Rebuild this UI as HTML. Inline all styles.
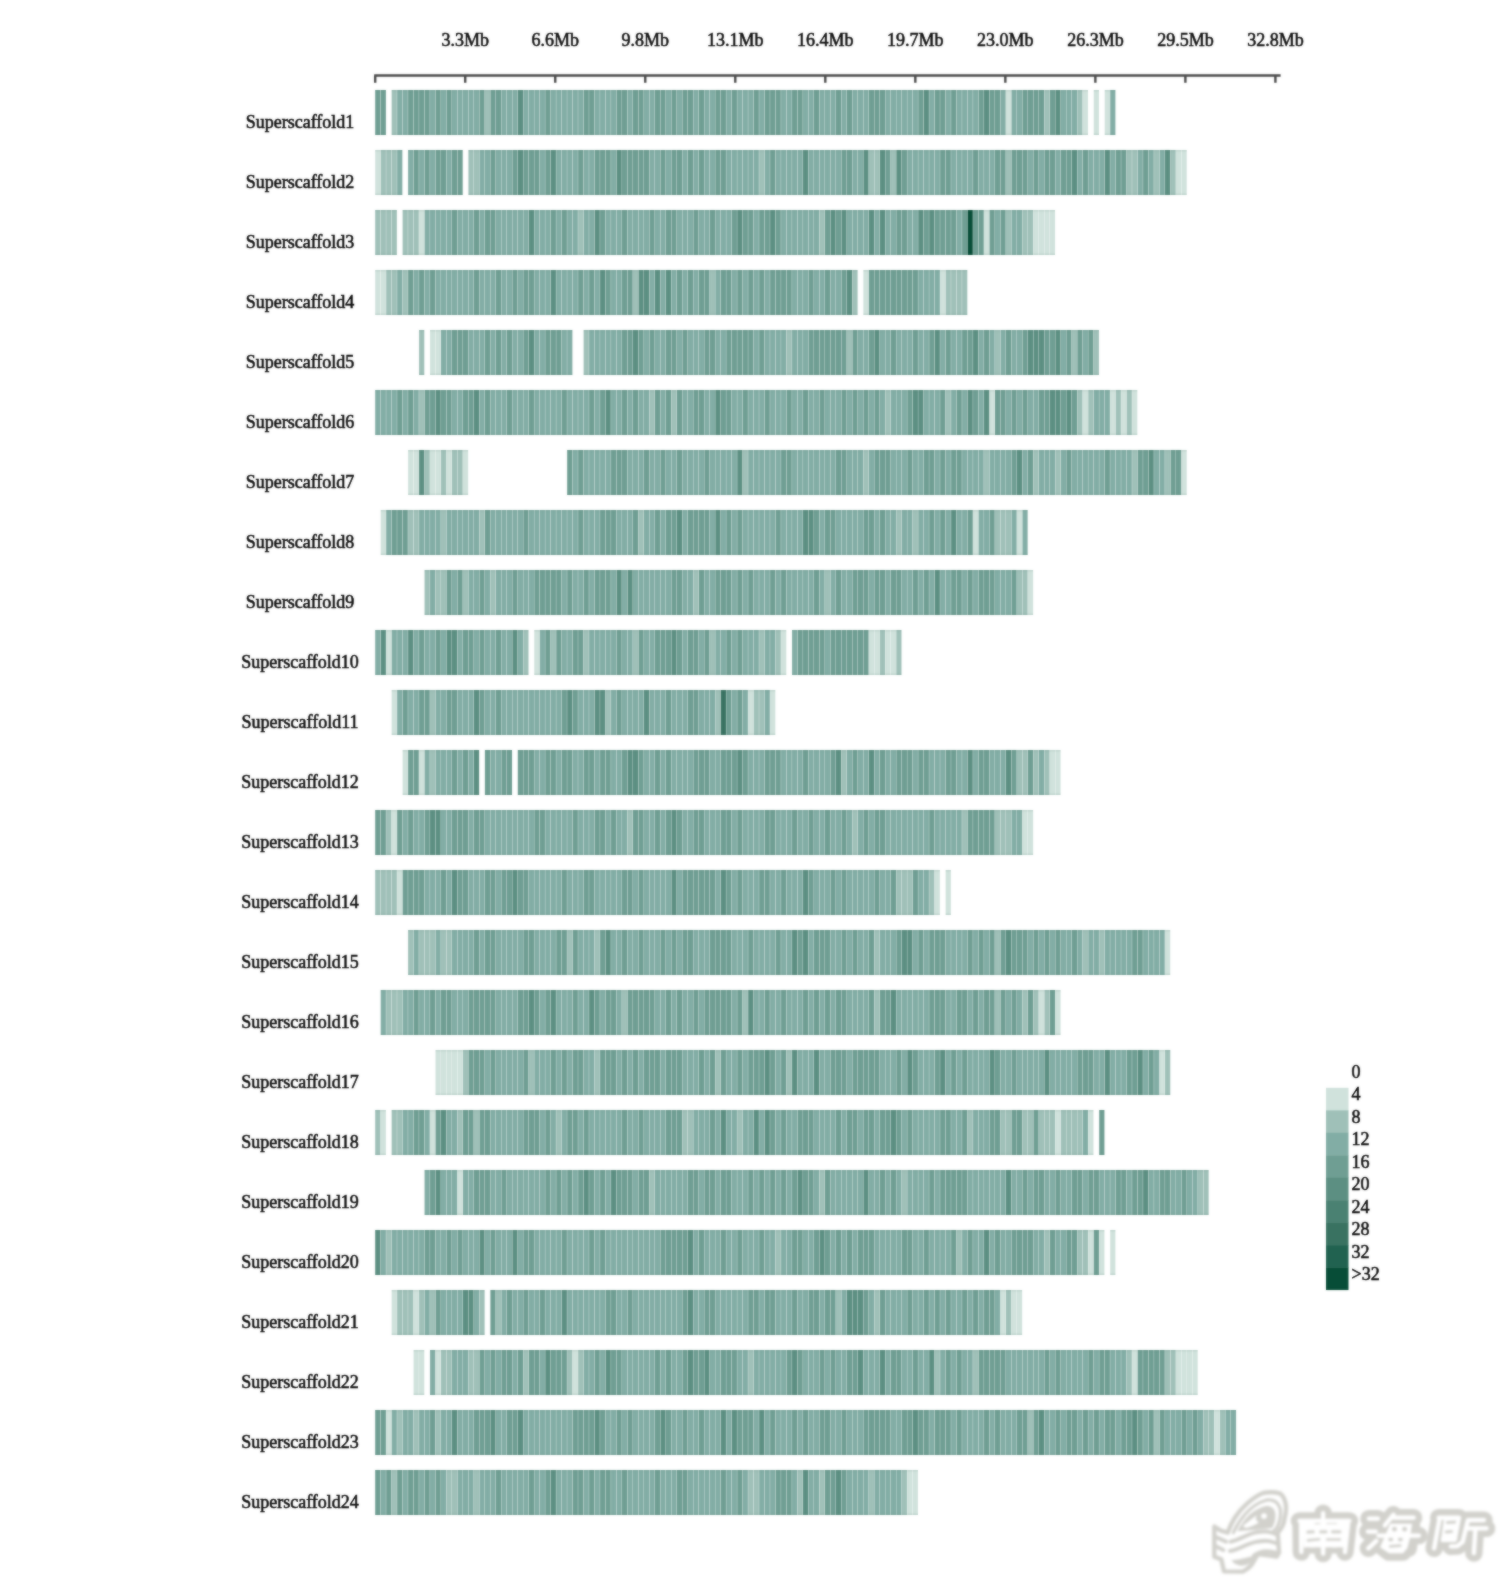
<!DOCTYPE html>
<html><head><meta charset="utf-8"><title>Gene density</title>
<style>
html,body{margin:0;padding:0;background:#fff;}
body{width:1500px;height:1590px;overflow:hidden;font-family:"Liberation Serif",serif;}
svg{display:block;font-family:"Liberation Serif",serif;}
</style></head><body>
<svg width="1500" height="1590" viewBox="0 0 1500 1590">
<defs><rect id="b" width="5.2" height="45"/><filter id="wb" x="-5%" y="-5%" width="110%" height="110%"><feGaussianBlur stdDeviation="0.9"/></filter><filter id="sb" x="0" y="0" width="1500" height="1590" filterUnits="userSpaceOnUse" color-interpolation-filters="sRGB"><feGaussianBlur in="SourceGraphic" stdDeviation="0.8" result="b"/><feComposite in="SourceGraphic" in2="b" operator="arithmetic" k1="0" k2="0.45" k3="0.55" k4="0"/></filter></defs>
<g filter="url(#sb)"><rect width="1500" height="1590" fill="#fff"/>
<g stroke="#4a4a4a" stroke-width="2.4" fill="none">
<path d="M374.2 75.5H1280.6"/>
<path d="M375.20 75.5V82.8M465.22 75.5V82.8M555.24 75.5V82.8M645.26 75.5V82.8M735.28 75.5V82.8M825.30 75.5V82.8M915.32 75.5V82.8M1005.34 75.5V82.8M1095.36 75.5V82.8M1185.38 75.5V82.8M1275.40 75.5V82.8"/>
</g>
<g font-size="18" text-anchor="middle" fill="#0a0a0a" stroke="#0a0a0a" stroke-width="0.55">
<text x="465.2" y="45.8">3.3Mb</text>
<text x="555.2" y="45.8">6.6Mb</text>
<text x="645.3" y="45.8">9.8Mb</text>
<text x="735.3" y="45.8">13.1Mb</text>
<text x="825.3" y="45.8">16.4Mb</text>
<text x="915.3" y="45.8">19.7Mb</text>
<text x="1005.3" y="45.8">23.0Mb</text>
<text x="1095.4" y="45.8">26.3Mb</text>
<text x="1185.4" y="45.8">29.5Mb</text>
<text x="1275.4" y="45.8">32.8Mb</text>
</g>
<g font-size="18" text-anchor="middle" fill="#0a0a0a" stroke="#0a0a0a" stroke-width="0.55">
<text x="300" y="127.9">Superscaffold1</text>
<text x="300" y="187.9">Superscaffold2</text>
<text x="300" y="247.9">Superscaffold3</text>
<text x="300" y="307.9">Superscaffold4</text>
<text x="300" y="367.9">Superscaffold5</text>
<text x="300" y="427.9">Superscaffold6</text>
<text x="300" y="487.9">Superscaffold7</text>
<text x="300" y="547.9">Superscaffold8</text>
<text x="300" y="607.9">Superscaffold9</text>
<text x="300" y="667.9">Superscaffold10</text>
<text x="300" y="727.9">Superscaffold11</text>
<text x="300" y="787.9">Superscaffold12</text>
<text x="300" y="847.9">Superscaffold13</text>
<text x="300" y="907.9">Superscaffold14</text>
<text x="300" y="967.9">Superscaffold15</text>
<text x="300" y="1027.9">Superscaffold16</text>
<text x="300" y="1087.9">Superscaffold17</text>
<text x="300" y="1147.9">Superscaffold18</text>
<text x="300" y="1207.9">Superscaffold19</text>
<text x="300" y="1267.9">Superscaffold20</text>
<text x="300" y="1327.9">Superscaffold21</text>
<text x="300" y="1387.9">Superscaffold22</text>
<text x="300" y="1447.9">Superscaffold23</text>
<text x="300" y="1507.9">Superscaffold24</text>
</g>
<g transform="translate(0,90.0)"><g fill="#d0e2dc"><use href="#b" x="1005.98"/><use href="#b" x="1082.77"/><use href="#b" x="1093.74"/><use href="#b" x="1104.70"/></g><g fill="#9fc0b8"><use href="#b" x="391.65"/><use href="#b" x="484.90"/><use href="#b" x="1044.37"/><use href="#b" x="1077.28"/></g><g fill="#82ada5"><use href="#b" x="397.14"/><use href="#b" x="402.62"/><use href="#b" x="430.05"/><use href="#b" x="441.02"/><use href="#b" x="451.99"/><use href="#b" x="457.48"/><use href="#b" x="462.96"/><use href="#b" x="468.44"/><use href="#b" x="473.93"/><use href="#b" x="501.36"/><use href="#b" x="506.84"/><use href="#b" x="512.33"/><use href="#b" x="523.29"/><use href="#b" x="528.78"/><use href="#b" x="534.26"/><use href="#b" x="539.75"/><use href="#b" x="550.72"/><use href="#b" x="556.21"/><use href="#b" x="561.69"/><use href="#b" x="567.17"/><use href="#b" x="572.66"/><use href="#b" x="578.14"/><use href="#b" x="594.60"/><use href="#b" x="600.09"/><use href="#b" x="605.57"/><use href="#b" x="611.06"/><use href="#b" x="627.51"/><use href="#b" x="643.97"/><use href="#b" x="649.45"/><use href="#b" x="665.90"/><use href="#b" x="676.88"/><use href="#b" x="693.33"/><use href="#b" x="704.30"/><use href="#b" x="709.79"/><use href="#b" x="726.24"/><use href="#b" x="737.21"/><use href="#b" x="742.69"/><use href="#b" x="748.18"/><use href="#b" x="759.15"/><use href="#b" x="781.09"/><use href="#b" x="786.58"/><use href="#b" x="803.03"/><use href="#b" x="808.51"/><use href="#b" x="819.49"/><use href="#b" x="824.97"/><use href="#b" x="830.46"/><use href="#b" x="841.42"/><use href="#b" x="852.39"/><use href="#b" x="857.88"/><use href="#b" x="863.37"/><use href="#b" x="885.31"/><use href="#b" x="890.79"/><use href="#b" x="896.28"/><use href="#b" x="901.76"/><use href="#b" x="907.25"/><use href="#b" x="912.73"/><use href="#b" x="929.18"/><use href="#b" x="945.64"/><use href="#b" x="956.61"/><use href="#b" x="962.10"/><use href="#b" x="967.58"/><use href="#b" x="973.07"/><use href="#b" x="1000.49"/><use href="#b" x="1011.46"/><use href="#b" x="1016.94"/><use href="#b" x="1060.83"/><use href="#b" x="1066.31"/><use href="#b" x="1071.80"/><use href="#b" x="1110.19"/></g><g fill="#6f9e93"><use href="#b" x="375.20"/><use href="#b" x="380.69"/><use href="#b" x="408.11"/><use href="#b" x="413.59"/><use href="#b" x="419.08"/><use href="#b" x="424.56"/><use href="#b" x="435.53"/><use href="#b" x="446.50"/><use href="#b" x="479.41"/><use href="#b" x="490.38"/><use href="#b" x="495.87"/><use href="#b" x="545.24"/><use href="#b" x="583.63"/><use href="#b" x="589.12"/><use href="#b" x="616.54"/><use href="#b" x="622.02"/><use href="#b" x="633.00"/><use href="#b" x="638.48"/><use href="#b" x="654.93"/><use href="#b" x="660.42"/><use href="#b" x="671.39"/><use href="#b" x="682.36"/><use href="#b" x="687.85"/><use href="#b" x="698.82"/><use href="#b" x="715.27"/><use href="#b" x="720.75"/><use href="#b" x="731.73"/><use href="#b" x="753.66"/><use href="#b" x="764.63"/><use href="#b" x="770.12"/><use href="#b" x="775.61"/><use href="#b" x="792.06"/><use href="#b" x="797.55"/><use href="#b" x="814.00"/><use href="#b" x="835.94"/><use href="#b" x="846.91"/><use href="#b" x="868.85"/><use href="#b" x="874.34"/><use href="#b" x="879.82"/><use href="#b" x="918.21"/><use href="#b" x="934.67"/><use href="#b" x="940.15"/><use href="#b" x="951.12"/><use href="#b" x="978.55"/><use href="#b" x="989.52"/><use href="#b" x="995.01"/><use href="#b" x="1022.43"/><use href="#b" x="1027.91"/><use href="#b" x="1033.40"/><use href="#b" x="1038.88"/><use href="#b" x="1049.86"/></g><g fill="#5c8f82"><use href="#b" x="517.81"/><use href="#b" x="923.70"/><use href="#b" x="984.04"/><use href="#b" x="1055.34"/></g><path fill="#0d4a3a" fill-opacity="0.09" d="M375.20 0h10.69v1.6h-10.69zM375.20 43.4h10.69v1.6h-10.69zM391.65 0h696.32v1.6h-696.32zM391.65 43.4h696.32v1.6h-696.32zM1093.74 0h5.21v1.6h-5.21zM1093.74 43.4h5.21v1.6h-5.21zM1104.70 0h10.69v1.6h-10.69zM1104.70 43.4h10.69v1.6h-10.69z"/></g>
<g transform="translate(0,150.0)"><g fill="#d0e2dc"><use href="#b" x="375.20"/><use href="#b" x="1176.01"/><use href="#b" x="1181.50"/></g><g fill="#9fc0b8"><use href="#b" x="380.69"/><use href="#b" x="386.17"/><use href="#b" x="391.65"/><use href="#b" x="468.44"/><use href="#b" x="473.93"/><use href="#b" x="759.15"/><use href="#b" x="868.85"/><use href="#b" x="874.34"/><use href="#b" x="890.79"/><use href="#b" x="1005.98"/><use href="#b" x="1126.64"/><use href="#b" x="1132.13"/><use href="#b" x="1154.07"/><use href="#b" x="1170.53"/></g><g fill="#82ada5"><use href="#b" x="397.14"/><use href="#b" x="408.11"/><use href="#b" x="419.08"/><use href="#b" x="430.05"/><use href="#b" x="446.50"/><use href="#b" x="479.41"/><use href="#b" x="484.90"/><use href="#b" x="495.87"/><use href="#b" x="501.36"/><use href="#b" x="506.84"/><use href="#b" x="539.75"/><use href="#b" x="556.21"/><use href="#b" x="561.69"/><use href="#b" x="567.17"/><use href="#b" x="572.66"/><use href="#b" x="583.63"/><use href="#b" x="589.12"/><use href="#b" x="611.06"/><use href="#b" x="649.45"/><use href="#b" x="654.93"/><use href="#b" x="665.90"/><use href="#b" x="682.36"/><use href="#b" x="693.33"/><use href="#b" x="704.30"/><use href="#b" x="709.79"/><use href="#b" x="726.24"/><use href="#b" x="731.73"/><use href="#b" x="737.21"/><use href="#b" x="742.69"/><use href="#b" x="748.18"/><use href="#b" x="753.66"/><use href="#b" x="764.63"/><use href="#b" x="775.61"/><use href="#b" x="781.09"/><use href="#b" x="786.58"/><use href="#b" x="792.06"/><use href="#b" x="797.55"/><use href="#b" x="808.51"/><use href="#b" x="814.00"/><use href="#b" x="819.49"/><use href="#b" x="824.97"/><use href="#b" x="830.46"/><use href="#b" x="835.94"/><use href="#b" x="852.39"/><use href="#b" x="857.88"/><use href="#b" x="907.25"/><use href="#b" x="912.73"/><use href="#b" x="918.21"/><use href="#b" x="923.70"/><use href="#b" x="929.18"/><use href="#b" x="934.67"/><use href="#b" x="951.12"/><use href="#b" x="956.61"/><use href="#b" x="962.10"/><use href="#b" x="967.58"/><use href="#b" x="978.55"/><use href="#b" x="984.04"/><use href="#b" x="989.52"/><use href="#b" x="1027.91"/><use href="#b" x="1038.88"/><use href="#b" x="1055.34"/><use href="#b" x="1077.28"/><use href="#b" x="1088.25"/><use href="#b" x="1093.74"/><use href="#b" x="1099.22"/><use href="#b" x="1110.19"/><use href="#b" x="1137.62"/><use href="#b" x="1148.59"/><use href="#b" x="1159.56"/></g><g fill="#6f9e93"><use href="#b" x="413.59"/><use href="#b" x="424.56"/><use href="#b" x="435.53"/><use href="#b" x="441.02"/><use href="#b" x="451.99"/><use href="#b" x="457.48"/><use href="#b" x="490.38"/><use href="#b" x="512.33"/><use href="#b" x="523.29"/><use href="#b" x="528.78"/><use href="#b" x="534.26"/><use href="#b" x="545.24"/><use href="#b" x="578.14"/><use href="#b" x="594.60"/><use href="#b" x="600.09"/><use href="#b" x="605.57"/><use href="#b" x="622.02"/><use href="#b" x="627.51"/><use href="#b" x="633.00"/><use href="#b" x="638.48"/><use href="#b" x="643.97"/><use href="#b" x="660.42"/><use href="#b" x="671.39"/><use href="#b" x="676.88"/><use href="#b" x="687.85"/><use href="#b" x="698.82"/><use href="#b" x="715.27"/><use href="#b" x="720.75"/><use href="#b" x="770.12"/><use href="#b" x="841.42"/><use href="#b" x="846.91"/><use href="#b" x="885.31"/><use href="#b" x="901.76"/><use href="#b" x="940.15"/><use href="#b" x="945.64"/><use href="#b" x="973.07"/><use href="#b" x="995.01"/><use href="#b" x="1000.49"/><use href="#b" x="1011.46"/><use href="#b" x="1016.94"/><use href="#b" x="1022.43"/><use href="#b" x="1033.40"/><use href="#b" x="1044.37"/><use href="#b" x="1049.86"/><use href="#b" x="1060.83"/><use href="#b" x="1066.31"/><use href="#b" x="1082.77"/><use href="#b" x="1115.67"/><use href="#b" x="1121.16"/><use href="#b" x="1143.10"/></g><g fill="#5c8f82"><use href="#b" x="517.81"/><use href="#b" x="550.72"/><use href="#b" x="616.54"/><use href="#b" x="803.03"/><use href="#b" x="863.37"/><use href="#b" x="879.82"/><use href="#b" x="896.28"/><use href="#b" x="1071.80"/><use href="#b" x="1104.70"/><use href="#b" x="1165.04"/></g><path fill="#0d4a3a" fill-opacity="0.09" d="M375.20 0h27.14v1.6h-27.14zM375.20 43.4h27.14v1.6h-27.14zM408.11 0h54.57v1.6h-54.57zM408.11 43.4h54.57v1.6h-54.57zM468.44 0h718.26v1.6h-718.26zM468.44 43.4h718.26v1.6h-718.26z"/></g>
<g transform="translate(0,210.0)"><g fill="#d0e2dc"><use href="#b" x="419.08"/><use href="#b" x="984.04"/><use href="#b" x="1033.40"/><use href="#b" x="1038.88"/><use href="#b" x="1044.37"/><use href="#b" x="1049.86"/></g><g fill="#9fc0b8"><use href="#b" x="375.20"/><use href="#b" x="380.69"/><use href="#b" x="386.17"/><use href="#b" x="391.65"/><use href="#b" x="402.62"/><use href="#b" x="408.11"/><use href="#b" x="413.59"/><use href="#b" x="578.14"/><use href="#b" x="819.49"/><use href="#b" x="1005.98"/><use href="#b" x="1022.43"/><use href="#b" x="1027.91"/></g><g fill="#82ada5"><use href="#b" x="424.56"/><use href="#b" x="430.05"/><use href="#b" x="435.53"/><use href="#b" x="441.02"/><use href="#b" x="446.50"/><use href="#b" x="457.48"/><use href="#b" x="462.96"/><use href="#b" x="468.44"/><use href="#b" x="479.41"/><use href="#b" x="495.87"/><use href="#b" x="501.36"/><use href="#b" x="506.84"/><use href="#b" x="512.33"/><use href="#b" x="517.81"/><use href="#b" x="523.29"/><use href="#b" x="534.26"/><use href="#b" x="539.75"/><use href="#b" x="545.24"/><use href="#b" x="556.21"/><use href="#b" x="567.17"/><use href="#b" x="572.66"/><use href="#b" x="583.63"/><use href="#b" x="589.12"/><use href="#b" x="605.57"/><use href="#b" x="611.06"/><use href="#b" x="616.54"/><use href="#b" x="627.51"/><use href="#b" x="633.00"/><use href="#b" x="638.48"/><use href="#b" x="643.97"/><use href="#b" x="654.93"/><use href="#b" x="660.42"/><use href="#b" x="676.88"/><use href="#b" x="682.36"/><use href="#b" x="687.85"/><use href="#b" x="698.82"/><use href="#b" x="704.30"/><use href="#b" x="715.27"/><use href="#b" x="720.75"/><use href="#b" x="726.24"/><use href="#b" x="753.66"/><use href="#b" x="781.09"/><use href="#b" x="786.58"/><use href="#b" x="792.06"/><use href="#b" x="797.55"/><use href="#b" x="803.03"/><use href="#b" x="808.51"/><use href="#b" x="814.00"/><use href="#b" x="846.91"/><use href="#b" x="852.39"/><use href="#b" x="857.88"/><use href="#b" x="863.37"/><use href="#b" x="874.34"/><use href="#b" x="885.31"/><use href="#b" x="890.79"/><use href="#b" x="907.25"/><use href="#b" x="912.73"/><use href="#b" x="956.61"/><use href="#b" x="995.01"/><use href="#b" x="1011.46"/><use href="#b" x="1016.94"/></g><g fill="#6f9e93"><use href="#b" x="451.99"/><use href="#b" x="473.93"/><use href="#b" x="484.90"/><use href="#b" x="490.38"/><use href="#b" x="550.72"/><use href="#b" x="561.69"/><use href="#b" x="600.09"/><use href="#b" x="622.02"/><use href="#b" x="649.45"/><use href="#b" x="665.90"/><use href="#b" x="671.39"/><use href="#b" x="693.33"/><use href="#b" x="709.79"/><use href="#b" x="731.73"/><use href="#b" x="742.69"/><use href="#b" x="748.18"/><use href="#b" x="759.15"/><use href="#b" x="764.63"/><use href="#b" x="775.61"/><use href="#b" x="824.97"/><use href="#b" x="835.94"/><use href="#b" x="896.28"/><use href="#b" x="901.76"/><use href="#b" x="923.70"/><use href="#b" x="934.67"/><use href="#b" x="940.15"/><use href="#b" x="945.64"/><use href="#b" x="951.12"/><use href="#b" x="962.10"/><use href="#b" x="973.07"/><use href="#b" x="978.55"/><use href="#b" x="989.52"/><use href="#b" x="1000.49"/></g><g fill="#5c8f82"><use href="#b" x="528.78"/><use href="#b" x="594.60"/><use href="#b" x="737.21"/><use href="#b" x="770.12"/><use href="#b" x="830.46"/><use href="#b" x="841.42"/><use href="#b" x="868.85"/><use href="#b" x="879.82"/><use href="#b" x="918.21"/><use href="#b" x="929.18"/></g><g fill="#074d37"><use href="#b" x="967.58"/></g><path fill="#0d4a3a" fill-opacity="0.09" d="M375.20 0h21.66v1.6h-21.66zM375.20 43.4h21.66v1.6h-21.66zM402.62 0h652.44v1.6h-652.44zM402.62 43.4h652.44v1.6h-652.44z"/></g>
<g transform="translate(0,270.0)"><g fill="#d0e2dc"><use href="#b" x="375.20"/><use href="#b" x="380.69"/><use href="#b" x="863.37"/><use href="#b" x="940.15"/></g><g fill="#9fc0b8"><use href="#b" x="386.17"/><use href="#b" x="391.65"/><use href="#b" x="402.62"/><use href="#b" x="633.00"/><use href="#b" x="709.79"/><use href="#b" x="852.39"/><use href="#b" x="945.64"/><use href="#b" x="951.12"/><use href="#b" x="956.61"/><use href="#b" x="962.10"/></g><g fill="#82ada5"><use href="#b" x="397.14"/><use href="#b" x="413.59"/><use href="#b" x="424.56"/><use href="#b" x="435.53"/><use href="#b" x="441.02"/><use href="#b" x="446.50"/><use href="#b" x="451.99"/><use href="#b" x="457.48"/><use href="#b" x="462.96"/><use href="#b" x="468.44"/><use href="#b" x="479.41"/><use href="#b" x="484.90"/><use href="#b" x="490.38"/><use href="#b" x="501.36"/><use href="#b" x="506.84"/><use href="#b" x="517.81"/><use href="#b" x="534.26"/><use href="#b" x="539.75"/><use href="#b" x="545.24"/><use href="#b" x="556.21"/><use href="#b" x="561.69"/><use href="#b" x="567.17"/><use href="#b" x="572.66"/><use href="#b" x="583.63"/><use href="#b" x="594.60"/><use href="#b" x="611.06"/><use href="#b" x="616.54"/><use href="#b" x="649.45"/><use href="#b" x="660.42"/><use href="#b" x="671.39"/><use href="#b" x="682.36"/><use href="#b" x="693.33"/><use href="#b" x="715.27"/><use href="#b" x="731.73"/><use href="#b" x="742.69"/><use href="#b" x="753.66"/><use href="#b" x="764.63"/><use href="#b" x="792.06"/><use href="#b" x="797.55"/><use href="#b" x="803.03"/><use href="#b" x="814.00"/><use href="#b" x="819.49"/><use href="#b" x="830.46"/><use href="#b" x="835.94"/><use href="#b" x="918.21"/><use href="#b" x="923.70"/><use href="#b" x="929.18"/><use href="#b" x="934.67"/></g><g fill="#6f9e93"><use href="#b" x="408.11"/><use href="#b" x="419.08"/><use href="#b" x="430.05"/><use href="#b" x="473.93"/><use href="#b" x="495.87"/><use href="#b" x="512.33"/><use href="#b" x="523.29"/><use href="#b" x="528.78"/><use href="#b" x="578.14"/><use href="#b" x="589.12"/><use href="#b" x="605.57"/><use href="#b" x="622.02"/><use href="#b" x="627.51"/><use href="#b" x="676.88"/><use href="#b" x="687.85"/><use href="#b" x="698.82"/><use href="#b" x="704.30"/><use href="#b" x="720.75"/><use href="#b" x="726.24"/><use href="#b" x="737.21"/><use href="#b" x="748.18"/><use href="#b" x="759.15"/><use href="#b" x="770.12"/><use href="#b" x="775.61"/><use href="#b" x="781.09"/><use href="#b" x="786.58"/><use href="#b" x="808.51"/><use href="#b" x="824.97"/><use href="#b" x="841.42"/><use href="#b" x="868.85"/><use href="#b" x="874.34"/><use href="#b" x="879.82"/><use href="#b" x="885.31"/><use href="#b" x="890.79"/><use href="#b" x="896.28"/><use href="#b" x="901.76"/><use href="#b" x="907.25"/><use href="#b" x="912.73"/></g><g fill="#5c8f82"><use href="#b" x="550.72"/><use href="#b" x="600.09"/><use href="#b" x="638.48"/><use href="#b" x="643.97"/><use href="#b" x="654.93"/><use href="#b" x="665.90"/><use href="#b" x="846.91"/></g><path fill="#0d4a3a" fill-opacity="0.09" d="M375.20 0h482.40v1.6h-482.40zM375.20 43.4h482.40v1.6h-482.40zM863.37 0h103.94v1.6h-103.94zM863.37 43.4h103.94v1.6h-103.94z"/></g>
<g transform="translate(0,330.0)"><g fill="#d0e2dc"><use href="#b" x="430.05"/><use href="#b" x="435.53"/></g><g fill="#9fc0b8"><use href="#b" x="419.08"/><use href="#b" x="583.63"/><use href="#b" x="786.58"/><use href="#b" x="846.91"/><use href="#b" x="995.01"/><use href="#b" x="1071.80"/><use href="#b" x="1093.74"/></g><g fill="#82ada5"><use href="#b" x="441.02"/><use href="#b" x="446.50"/><use href="#b" x="468.44"/><use href="#b" x="473.93"/><use href="#b" x="479.41"/><use href="#b" x="490.38"/><use href="#b" x="501.36"/><use href="#b" x="512.33"/><use href="#b" x="517.81"/><use href="#b" x="534.26"/><use href="#b" x="539.75"/><use href="#b" x="561.69"/><use href="#b" x="567.17"/><use href="#b" x="589.12"/><use href="#b" x="594.60"/><use href="#b" x="600.09"/><use href="#b" x="605.57"/><use href="#b" x="611.06"/><use href="#b" x="616.54"/><use href="#b" x="643.97"/><use href="#b" x="654.93"/><use href="#b" x="660.42"/><use href="#b" x="676.88"/><use href="#b" x="687.85"/><use href="#b" x="693.33"/><use href="#b" x="698.82"/><use href="#b" x="715.27"/><use href="#b" x="720.75"/><use href="#b" x="753.66"/><use href="#b" x="764.63"/><use href="#b" x="770.12"/><use href="#b" x="775.61"/><use href="#b" x="781.09"/><use href="#b" x="792.06"/><use href="#b" x="797.55"/><use href="#b" x="803.03"/><use href="#b" x="857.88"/><use href="#b" x="863.37"/><use href="#b" x="879.82"/><use href="#b" x="885.31"/><use href="#b" x="896.28"/><use href="#b" x="901.76"/><use href="#b" x="907.25"/><use href="#b" x="918.21"/><use href="#b" x="923.70"/><use href="#b" x="940.15"/><use href="#b" x="951.12"/><use href="#b" x="956.61"/><use href="#b" x="978.55"/><use href="#b" x="989.52"/><use href="#b" x="1000.49"/><use href="#b" x="1011.46"/><use href="#b" x="1016.94"/><use href="#b" x="1060.83"/><use href="#b" x="1082.77"/></g><g fill="#6f9e93"><use href="#b" x="451.99"/><use href="#b" x="457.48"/><use href="#b" x="462.96"/><use href="#b" x="484.90"/><use href="#b" x="495.87"/><use href="#b" x="506.84"/><use href="#b" x="523.29"/><use href="#b" x="545.24"/><use href="#b" x="550.72"/><use href="#b" x="556.21"/><use href="#b" x="622.02"/><use href="#b" x="627.51"/><use href="#b" x="638.48"/><use href="#b" x="649.45"/><use href="#b" x="665.90"/><use href="#b" x="671.39"/><use href="#b" x="682.36"/><use href="#b" x="704.30"/><use href="#b" x="709.79"/><use href="#b" x="726.24"/><use href="#b" x="731.73"/><use href="#b" x="737.21"/><use href="#b" x="742.69"/><use href="#b" x="748.18"/><use href="#b" x="759.15"/><use href="#b" x="808.51"/><use href="#b" x="814.00"/><use href="#b" x="819.49"/><use href="#b" x="824.97"/><use href="#b" x="830.46"/><use href="#b" x="835.94"/><use href="#b" x="841.42"/><use href="#b" x="852.39"/><use href="#b" x="868.85"/><use href="#b" x="890.79"/><use href="#b" x="912.73"/><use href="#b" x="929.18"/><use href="#b" x="945.64"/><use href="#b" x="962.10"/><use href="#b" x="967.58"/><use href="#b" x="984.04"/><use href="#b" x="1005.98"/><use href="#b" x="1022.43"/><use href="#b" x="1044.37"/><use href="#b" x="1049.86"/><use href="#b" x="1066.31"/><use href="#b" x="1077.28"/><use href="#b" x="1088.25"/></g><g fill="#5c8f82"><use href="#b" x="528.78"/><use href="#b" x="633.00"/><use href="#b" x="874.34"/><use href="#b" x="934.67"/><use href="#b" x="973.07"/><use href="#b" x="1027.91"/><use href="#b" x="1033.40"/><use href="#b" x="1038.88"/><use href="#b" x="1055.34"/></g><path fill="#0d4a3a" fill-opacity="0.09" d="M419.08 0h5.21v1.6h-5.21zM419.08 43.4h5.21v1.6h-5.21zM430.05 0h142.33v1.6h-142.33zM430.05 43.4h142.33v1.6h-142.33zM583.63 0h515.31v1.6h-515.31zM583.63 43.4h515.31v1.6h-515.31z"/></g>
<g transform="translate(0,390.0)"><g fill="#d0e2dc"><use href="#b" x="989.52"/><use href="#b" x="1082.77"/><use href="#b" x="1110.19"/><use href="#b" x="1121.16"/><use href="#b" x="1132.13"/></g><g fill="#9fc0b8"><use href="#b" x="419.08"/><use href="#b" x="649.45"/><use href="#b" x="671.39"/><use href="#b" x="885.31"/><use href="#b" x="945.64"/><use href="#b" x="1077.28"/><use href="#b" x="1088.25"/><use href="#b" x="1115.67"/><use href="#b" x="1126.64"/></g><g fill="#82ada5"><use href="#b" x="375.20"/><use href="#b" x="380.69"/><use href="#b" x="386.17"/><use href="#b" x="391.65"/><use href="#b" x="402.62"/><use href="#b" x="413.59"/><use href="#b" x="451.99"/><use href="#b" x="457.48"/><use href="#b" x="479.41"/><use href="#b" x="490.38"/><use href="#b" x="495.87"/><use href="#b" x="501.36"/><use href="#b" x="512.33"/><use href="#b" x="517.81"/><use href="#b" x="523.29"/><use href="#b" x="534.26"/><use href="#b" x="539.75"/><use href="#b" x="545.24"/><use href="#b" x="550.72"/><use href="#b" x="556.21"/><use href="#b" x="567.17"/><use href="#b" x="572.66"/><use href="#b" x="578.14"/><use href="#b" x="583.63"/><use href="#b" x="594.60"/><use href="#b" x="611.06"/><use href="#b" x="616.54"/><use href="#b" x="627.51"/><use href="#b" x="638.48"/><use href="#b" x="643.97"/><use href="#b" x="660.42"/><use href="#b" x="682.36"/><use href="#b" x="687.85"/><use href="#b" x="704.30"/><use href="#b" x="709.79"/><use href="#b" x="731.73"/><use href="#b" x="737.21"/><use href="#b" x="748.18"/><use href="#b" x="753.66"/><use href="#b" x="759.15"/><use href="#b" x="770.12"/><use href="#b" x="775.61"/><use href="#b" x="781.09"/><use href="#b" x="792.06"/><use href="#b" x="797.55"/><use href="#b" x="808.51"/><use href="#b" x="814.00"/><use href="#b" x="824.97"/><use href="#b" x="830.46"/><use href="#b" x="835.94"/><use href="#b" x="846.91"/><use href="#b" x="857.88"/><use href="#b" x="868.85"/><use href="#b" x="879.82"/><use href="#b" x="890.79"/><use href="#b" x="896.28"/><use href="#b" x="901.76"/><use href="#b" x="923.70"/><use href="#b" x="929.18"/><use href="#b" x="934.67"/><use href="#b" x="951.12"/><use href="#b" x="962.10"/><use href="#b" x="978.55"/><use href="#b" x="1005.98"/><use href="#b" x="1016.94"/><use href="#b" x="1027.91"/><use href="#b" x="1033.40"/><use href="#b" x="1093.74"/><use href="#b" x="1099.22"/><use href="#b" x="1104.70"/></g><g fill="#6f9e93"><use href="#b" x="397.14"/><use href="#b" x="408.11"/><use href="#b" x="424.56"/><use href="#b" x="430.05"/><use href="#b" x="441.02"/><use href="#b" x="446.50"/><use href="#b" x="462.96"/><use href="#b" x="468.44"/><use href="#b" x="484.90"/><use href="#b" x="506.84"/><use href="#b" x="528.78"/><use href="#b" x="561.69"/><use href="#b" x="589.12"/><use href="#b" x="600.09"/><use href="#b" x="622.02"/><use href="#b" x="633.00"/><use href="#b" x="654.93"/><use href="#b" x="665.90"/><use href="#b" x="676.88"/><use href="#b" x="693.33"/><use href="#b" x="698.82"/><use href="#b" x="720.75"/><use href="#b" x="726.24"/><use href="#b" x="742.69"/><use href="#b" x="764.63"/><use href="#b" x="786.58"/><use href="#b" x="803.03"/><use href="#b" x="819.49"/><use href="#b" x="841.42"/><use href="#b" x="852.39"/><use href="#b" x="863.37"/><use href="#b" x="874.34"/><use href="#b" x="907.25"/><use href="#b" x="940.15"/><use href="#b" x="956.61"/><use href="#b" x="973.07"/><use href="#b" x="995.01"/><use href="#b" x="1000.49"/><use href="#b" x="1011.46"/><use href="#b" x="1022.43"/><use href="#b" x="1038.88"/><use href="#b" x="1044.37"/><use href="#b" x="1060.83"/><use href="#b" x="1071.80"/></g><g fill="#5c8f82"><use href="#b" x="435.53"/><use href="#b" x="473.93"/><use href="#b" x="605.57"/><use href="#b" x="715.27"/><use href="#b" x="912.73"/><use href="#b" x="918.21"/><use href="#b" x="967.58"/><use href="#b" x="984.04"/><use href="#b" x="1049.86"/><use href="#b" x="1055.34"/><use href="#b" x="1066.31"/></g><path fill="#0d4a3a" fill-opacity="0.09" d="M375.20 0h762.14v1.6h-762.14zM375.20 43.4h762.14v1.6h-762.14z"/></g>
<g transform="translate(0,450.0)"><g fill="#d0e2dc"><use href="#b" x="408.11"/><use href="#b" x="413.59"/><use href="#b" x="430.05"/><use href="#b" x="435.53"/><use href="#b" x="446.50"/><use href="#b" x="462.96"/><use href="#b" x="1181.50"/></g><g fill="#9fc0b8"><use href="#b" x="424.56"/><use href="#b" x="441.02"/><use href="#b" x="451.99"/><use href="#b" x="457.48"/><use href="#b" x="742.69"/><use href="#b" x="863.37"/><use href="#b" x="984.04"/><use href="#b" x="1033.40"/><use href="#b" x="1055.34"/><use href="#b" x="1132.13"/><use href="#b" x="1165.04"/></g><g fill="#82ada5"><use href="#b" x="572.66"/><use href="#b" x="583.63"/><use href="#b" x="589.12"/><use href="#b" x="594.60"/><use href="#b" x="600.09"/><use href="#b" x="605.57"/><use href="#b" x="627.51"/><use href="#b" x="633.00"/><use href="#b" x="638.48"/><use href="#b" x="649.45"/><use href="#b" x="654.93"/><use href="#b" x="665.90"/><use href="#b" x="671.39"/><use href="#b" x="682.36"/><use href="#b" x="687.85"/><use href="#b" x="693.33"/><use href="#b" x="698.82"/><use href="#b" x="709.79"/><use href="#b" x="715.27"/><use href="#b" x="720.75"/><use href="#b" x="726.24"/><use href="#b" x="731.73"/><use href="#b" x="748.18"/><use href="#b" x="753.66"/><use href="#b" x="759.15"/><use href="#b" x="764.63"/><use href="#b" x="770.12"/><use href="#b" x="775.61"/><use href="#b" x="792.06"/><use href="#b" x="797.55"/><use href="#b" x="803.03"/><use href="#b" x="808.51"/><use href="#b" x="814.00"/><use href="#b" x="819.49"/><use href="#b" x="824.97"/><use href="#b" x="830.46"/><use href="#b" x="846.91"/><use href="#b" x="852.39"/><use href="#b" x="857.88"/><use href="#b" x="868.85"/><use href="#b" x="890.79"/><use href="#b" x="896.28"/><use href="#b" x="901.76"/><use href="#b" x="912.73"/><use href="#b" x="918.21"/><use href="#b" x="934.67"/><use href="#b" x="945.64"/><use href="#b" x="962.10"/><use href="#b" x="967.58"/><use href="#b" x="973.07"/><use href="#b" x="978.55"/><use href="#b" x="989.52"/><use href="#b" x="995.01"/><use href="#b" x="1000.49"/><use href="#b" x="1005.98"/><use href="#b" x="1022.43"/><use href="#b" x="1038.88"/><use href="#b" x="1044.37"/><use href="#b" x="1049.86"/><use href="#b" x="1060.83"/><use href="#b" x="1071.80"/><use href="#b" x="1077.28"/><use href="#b" x="1082.77"/><use href="#b" x="1088.25"/><use href="#b" x="1093.74"/><use href="#b" x="1099.22"/><use href="#b" x="1110.19"/><use href="#b" x="1115.67"/><use href="#b" x="1121.16"/><use href="#b" x="1126.64"/><use href="#b" x="1154.07"/><use href="#b" x="1159.56"/></g><g fill="#6f9e93"><use href="#b" x="567.17"/><use href="#b" x="578.14"/><use href="#b" x="611.06"/><use href="#b" x="616.54"/><use href="#b" x="622.02"/><use href="#b" x="643.97"/><use href="#b" x="660.42"/><use href="#b" x="676.88"/><use href="#b" x="704.30"/><use href="#b" x="781.09"/><use href="#b" x="786.58"/><use href="#b" x="835.94"/><use href="#b" x="841.42"/><use href="#b" x="874.34"/><use href="#b" x="879.82"/><use href="#b" x="885.31"/><use href="#b" x="907.25"/><use href="#b" x="923.70"/><use href="#b" x="929.18"/><use href="#b" x="940.15"/><use href="#b" x="951.12"/><use href="#b" x="956.61"/><use href="#b" x="1011.46"/><use href="#b" x="1027.91"/><use href="#b" x="1066.31"/><use href="#b" x="1104.70"/><use href="#b" x="1137.62"/><use href="#b" x="1143.10"/><use href="#b" x="1170.53"/><use href="#b" x="1176.01"/></g><g fill="#5c8f82"><use href="#b" x="419.08"/><use href="#b" x="737.21"/><use href="#b" x="1016.94"/><use href="#b" x="1148.59"/></g><path fill="#0d4a3a" fill-opacity="0.09" d="M408.11 0h60.05v1.6h-60.05zM408.11 43.4h60.05v1.6h-60.05zM567.17 0h619.53v1.6h-619.53zM567.17 43.4h619.53v1.6h-619.53z"/></g>
<g transform="translate(0,510.0)"><g fill="#d0e2dc"><use href="#b" x="380.69"/><use href="#b" x="973.07"/><use href="#b" x="1016.94"/></g><g fill="#9fc0b8"><use href="#b" x="408.11"/><use href="#b" x="413.59"/><use href="#b" x="441.02"/><use href="#b" x="479.41"/><use href="#b" x="638.48"/><use href="#b" x="896.28"/><use href="#b" x="912.73"/><use href="#b" x="995.01"/><use href="#b" x="1000.49"/><use href="#b" x="1005.98"/></g><g fill="#82ada5"><use href="#b" x="386.17"/><use href="#b" x="419.08"/><use href="#b" x="424.56"/><use href="#b" x="430.05"/><use href="#b" x="435.53"/><use href="#b" x="446.50"/><use href="#b" x="451.99"/><use href="#b" x="457.48"/><use href="#b" x="462.96"/><use href="#b" x="468.44"/><use href="#b" x="473.93"/><use href="#b" x="490.38"/><use href="#b" x="495.87"/><use href="#b" x="501.36"/><use href="#b" x="506.84"/><use href="#b" x="512.33"/><use href="#b" x="517.81"/><use href="#b" x="528.78"/><use href="#b" x="534.26"/><use href="#b" x="539.75"/><use href="#b" x="545.24"/><use href="#b" x="550.72"/><use href="#b" x="556.21"/><use href="#b" x="561.69"/><use href="#b" x="567.17"/><use href="#b" x="572.66"/><use href="#b" x="583.63"/><use href="#b" x="589.12"/><use href="#b" x="594.60"/><use href="#b" x="616.54"/><use href="#b" x="622.02"/><use href="#b" x="627.51"/><use href="#b" x="643.97"/><use href="#b" x="649.45"/><use href="#b" x="660.42"/><use href="#b" x="682.36"/><use href="#b" x="709.79"/><use href="#b" x="720.75"/><use href="#b" x="731.73"/><use href="#b" x="742.69"/><use href="#b" x="748.18"/><use href="#b" x="753.66"/><use href="#b" x="759.15"/><use href="#b" x="764.63"/><use href="#b" x="770.12"/><use href="#b" x="781.09"/><use href="#b" x="786.58"/><use href="#b" x="792.06"/><use href="#b" x="797.55"/><use href="#b" x="819.49"/><use href="#b" x="835.94"/><use href="#b" x="841.42"/><use href="#b" x="846.91"/><use href="#b" x="852.39"/><use href="#b" x="857.88"/><use href="#b" x="874.34"/><use href="#b" x="885.31"/><use href="#b" x="890.79"/><use href="#b" x="901.76"/><use href="#b" x="907.25"/><use href="#b" x="918.21"/><use href="#b" x="923.70"/><use href="#b" x="934.67"/><use href="#b" x="945.64"/><use href="#b" x="956.61"/><use href="#b" x="962.10"/><use href="#b" x="978.55"/><use href="#b" x="984.04"/><use href="#b" x="1011.46"/><use href="#b" x="1022.43"/></g><g fill="#6f9e93"><use href="#b" x="391.65"/><use href="#b" x="397.14"/><use href="#b" x="402.62"/><use href="#b" x="484.90"/><use href="#b" x="523.29"/><use href="#b" x="578.14"/><use href="#b" x="600.09"/><use href="#b" x="605.57"/><use href="#b" x="611.06"/><use href="#b" x="633.00"/><use href="#b" x="654.93"/><use href="#b" x="665.90"/><use href="#b" x="671.39"/><use href="#b" x="687.85"/><use href="#b" x="693.33"/><use href="#b" x="698.82"/><use href="#b" x="704.30"/><use href="#b" x="726.24"/><use href="#b" x="737.21"/><use href="#b" x="775.61"/><use href="#b" x="814.00"/><use href="#b" x="824.97"/><use href="#b" x="830.46"/><use href="#b" x="863.37"/><use href="#b" x="868.85"/><use href="#b" x="879.82"/><use href="#b" x="929.18"/><use href="#b" x="940.15"/><use href="#b" x="967.58"/><use href="#b" x="989.52"/></g><g fill="#5c8f82"><use href="#b" x="676.88"/><use href="#b" x="715.27"/><use href="#b" x="803.03"/><use href="#b" x="808.51"/><use href="#b" x="951.12"/></g><path fill="#0d4a3a" fill-opacity="0.09" d="M380.69 0h646.95v1.6h-646.95zM380.69 43.4h646.95v1.6h-646.95z"/></g>
<g transform="translate(0,570.0)"><g fill="#d0e2dc"><use href="#b" x="1027.91"/></g><g fill="#9fc0b8"><use href="#b" x="424.56"/><use href="#b" x="435.53"/><use href="#b" x="441.02"/><use href="#b" x="462.96"/><use href="#b" x="490.38"/><use href="#b" x="693.33"/><use href="#b" x="824.97"/><use href="#b" x="1016.94"/><use href="#b" x="1022.43"/></g><g fill="#82ada5"><use href="#b" x="430.05"/><use href="#b" x="451.99"/><use href="#b" x="468.44"/><use href="#b" x="473.93"/><use href="#b" x="484.90"/><use href="#b" x="495.87"/><use href="#b" x="501.36"/><use href="#b" x="506.84"/><use href="#b" x="517.81"/><use href="#b" x="523.29"/><use href="#b" x="528.78"/><use href="#b" x="561.69"/><use href="#b" x="572.66"/><use href="#b" x="578.14"/><use href="#b" x="589.12"/><use href="#b" x="611.06"/><use href="#b" x="622.02"/><use href="#b" x="633.00"/><use href="#b" x="638.48"/><use href="#b" x="643.97"/><use href="#b" x="649.45"/><use href="#b" x="654.93"/><use href="#b" x="660.42"/><use href="#b" x="665.90"/><use href="#b" x="682.36"/><use href="#b" x="687.85"/><use href="#b" x="704.30"/><use href="#b" x="709.79"/><use href="#b" x="731.73"/><use href="#b" x="742.69"/><use href="#b" x="753.66"/><use href="#b" x="759.15"/><use href="#b" x="764.63"/><use href="#b" x="775.61"/><use href="#b" x="786.58"/><use href="#b" x="792.06"/><use href="#b" x="797.55"/><use href="#b" x="803.03"/><use href="#b" x="808.51"/><use href="#b" x="819.49"/><use href="#b" x="830.46"/><use href="#b" x="841.42"/><use href="#b" x="846.91"/><use href="#b" x="868.85"/><use href="#b" x="885.31"/><use href="#b" x="901.76"/><use href="#b" x="907.25"/><use href="#b" x="918.21"/><use href="#b" x="929.18"/><use href="#b" x="940.15"/><use href="#b" x="945.64"/><use href="#b" x="962.10"/><use href="#b" x="973.07"/><use href="#b" x="995.01"/><use href="#b" x="1000.49"/><use href="#b" x="1005.98"/></g><g fill="#6f9e93"><use href="#b" x="446.50"/><use href="#b" x="457.48"/><use href="#b" x="479.41"/><use href="#b" x="512.33"/><use href="#b" x="534.26"/><use href="#b" x="539.75"/><use href="#b" x="545.24"/><use href="#b" x="550.72"/><use href="#b" x="556.21"/><use href="#b" x="567.17"/><use href="#b" x="583.63"/><use href="#b" x="594.60"/><use href="#b" x="600.09"/><use href="#b" x="605.57"/><use href="#b" x="671.39"/><use href="#b" x="676.88"/><use href="#b" x="698.82"/><use href="#b" x="715.27"/><use href="#b" x="720.75"/><use href="#b" x="726.24"/><use href="#b" x="737.21"/><use href="#b" x="748.18"/><use href="#b" x="770.12"/><use href="#b" x="781.09"/><use href="#b" x="814.00"/><use href="#b" x="835.94"/><use href="#b" x="852.39"/><use href="#b" x="857.88"/><use href="#b" x="863.37"/><use href="#b" x="874.34"/><use href="#b" x="879.82"/><use href="#b" x="890.79"/><use href="#b" x="896.28"/><use href="#b" x="912.73"/><use href="#b" x="923.70"/><use href="#b" x="951.12"/><use href="#b" x="956.61"/><use href="#b" x="967.58"/><use href="#b" x="978.55"/><use href="#b" x="984.04"/><use href="#b" x="989.52"/><use href="#b" x="1011.46"/></g><g fill="#5c8f82"><use href="#b" x="616.54"/><use href="#b" x="627.51"/><use href="#b" x="934.67"/></g><path fill="#0d4a3a" fill-opacity="0.09" d="M424.56 0h608.56v1.6h-608.56zM424.56 43.4h608.56v1.6h-608.56z"/></g>
<g transform="translate(0,630.0)"><g fill="#d0e2dc"><use href="#b" x="386.17"/><use href="#b" x="534.26"/><use href="#b" x="781.09"/><use href="#b" x="868.85"/><use href="#b" x="874.34"/><use href="#b" x="885.31"/><use href="#b" x="890.79"/></g><g fill="#9fc0b8"><use href="#b" x="523.29"/><use href="#b" x="550.72"/><use href="#b" x="583.63"/><use href="#b" x="633.00"/><use href="#b" x="709.79"/><use href="#b" x="759.15"/><use href="#b" x="775.61"/><use href="#b" x="879.82"/><use href="#b" x="896.28"/></g><g fill="#82ada5"><use href="#b" x="375.20"/><use href="#b" x="391.65"/><use href="#b" x="397.14"/><use href="#b" x="402.62"/><use href="#b" x="413.59"/><use href="#b" x="424.56"/><use href="#b" x="430.05"/><use href="#b" x="441.02"/><use href="#b" x="457.48"/><use href="#b" x="473.93"/><use href="#b" x="484.90"/><use href="#b" x="490.38"/><use href="#b" x="501.36"/><use href="#b" x="506.84"/><use href="#b" x="517.81"/><use href="#b" x="539.75"/><use href="#b" x="561.69"/><use href="#b" x="567.17"/><use href="#b" x="589.12"/><use href="#b" x="594.60"/><use href="#b" x="600.09"/><use href="#b" x="605.57"/><use href="#b" x="611.06"/><use href="#b" x="622.02"/><use href="#b" x="627.51"/><use href="#b" x="643.97"/><use href="#b" x="649.45"/><use href="#b" x="682.36"/><use href="#b" x="698.82"/><use href="#b" x="715.27"/><use href="#b" x="720.75"/><use href="#b" x="731.73"/><use href="#b" x="742.69"/><use href="#b" x="748.18"/><use href="#b" x="753.66"/><use href="#b" x="764.63"/><use href="#b" x="770.12"/><use href="#b" x="792.06"/><use href="#b" x="824.97"/></g><g fill="#6f9e93"><use href="#b" x="419.08"/><use href="#b" x="435.53"/><use href="#b" x="462.96"/><use href="#b" x="468.44"/><use href="#b" x="479.41"/><use href="#b" x="495.87"/><use href="#b" x="545.24"/><use href="#b" x="556.21"/><use href="#b" x="572.66"/><use href="#b" x="578.14"/><use href="#b" x="616.54"/><use href="#b" x="638.48"/><use href="#b" x="654.93"/><use href="#b" x="660.42"/><use href="#b" x="665.90"/><use href="#b" x="676.88"/><use href="#b" x="687.85"/><use href="#b" x="693.33"/><use href="#b" x="704.30"/><use href="#b" x="726.24"/><use href="#b" x="737.21"/><use href="#b" x="797.55"/><use href="#b" x="803.03"/><use href="#b" x="808.51"/><use href="#b" x="814.00"/><use href="#b" x="819.49"/><use href="#b" x="830.46"/><use href="#b" x="835.94"/><use href="#b" x="841.42"/><use href="#b" x="846.91"/><use href="#b" x="852.39"/><use href="#b" x="857.88"/><use href="#b" x="863.37"/></g><g fill="#5c8f82"><use href="#b" x="380.69"/><use href="#b" x="408.11"/><use href="#b" x="446.50"/><use href="#b" x="451.99"/><use href="#b" x="512.33"/><use href="#b" x="671.39"/></g><path fill="#0d4a3a" fill-opacity="0.09" d="M375.20 0h153.30v1.6h-153.30zM375.20 43.4h153.30v1.6h-153.30zM534.26 0h252.03v1.6h-252.03zM534.26 43.4h252.03v1.6h-252.03zM792.06 0h109.42v1.6h-109.42zM792.06 43.4h109.42v1.6h-109.42z"/></g>
<g transform="translate(0,690.0)"><g fill="#d0e2dc"><use href="#b" x="391.65"/><use href="#b" x="748.18"/><use href="#b" x="770.12"/></g><g fill="#9fc0b8"><use href="#b" x="430.05"/><use href="#b" x="605.57"/><use href="#b" x="715.27"/><use href="#b" x="753.66"/><use href="#b" x="759.15"/></g><g fill="#82ada5"><use href="#b" x="397.14"/><use href="#b" x="408.11"/><use href="#b" x="413.59"/><use href="#b" x="435.53"/><use href="#b" x="441.02"/><use href="#b" x="457.48"/><use href="#b" x="462.96"/><use href="#b" x="468.44"/><use href="#b" x="484.90"/><use href="#b" x="490.38"/><use href="#b" x="501.36"/><use href="#b" x="506.84"/><use href="#b" x="512.33"/><use href="#b" x="517.81"/><use href="#b" x="523.29"/><use href="#b" x="528.78"/><use href="#b" x="534.26"/><use href="#b" x="539.75"/><use href="#b" x="545.24"/><use href="#b" x="550.72"/><use href="#b" x="556.21"/><use href="#b" x="578.14"/><use href="#b" x="583.63"/><use href="#b" x="589.12"/><use href="#b" x="611.06"/><use href="#b" x="622.02"/><use href="#b" x="627.51"/><use href="#b" x="633.00"/><use href="#b" x="638.48"/><use href="#b" x="649.45"/><use href="#b" x="654.93"/><use href="#b" x="660.42"/><use href="#b" x="671.39"/><use href="#b" x="676.88"/><use href="#b" x="682.36"/><use href="#b" x="698.82"/><use href="#b" x="704.30"/><use href="#b" x="709.79"/><use href="#b" x="731.73"/><use href="#b" x="742.69"/><use href="#b" x="764.63"/></g><g fill="#6f9e93"><use href="#b" x="402.62"/><use href="#b" x="419.08"/><use href="#b" x="424.56"/><use href="#b" x="446.50"/><use href="#b" x="451.99"/><use href="#b" x="479.41"/><use href="#b" x="495.87"/><use href="#b" x="561.69"/><use href="#b" x="572.66"/><use href="#b" x="616.54"/><use href="#b" x="665.90"/><use href="#b" x="687.85"/><use href="#b" x="693.33"/><use href="#b" x="726.24"/><use href="#b" x="737.21"/></g><g fill="#5c8f82"><use href="#b" x="473.93"/><use href="#b" x="567.17"/><use href="#b" x="594.60"/><use href="#b" x="600.09"/><use href="#b" x="643.97"/></g><g fill="#397261"><use href="#b" x="720.75"/></g><path fill="#0d4a3a" fill-opacity="0.09" d="M391.65 0h383.67v1.6h-383.67zM391.65 43.4h383.67v1.6h-383.67z"/></g>
<g transform="translate(0,750.0)"><g fill="#d0e2dc"><use href="#b" x="402.62"/><use href="#b" x="419.08"/><use href="#b" x="1049.86"/><use href="#b" x="1055.34"/></g><g fill="#9fc0b8"><use href="#b" x="430.05"/><use href="#b" x="841.42"/><use href="#b" x="1016.94"/><use href="#b" x="1022.43"/><use href="#b" x="1033.40"/><use href="#b" x="1044.37"/></g><g fill="#82ada5"><use href="#b" x="424.56"/><use href="#b" x="435.53"/><use href="#b" x="441.02"/><use href="#b" x="446.50"/><use href="#b" x="457.48"/><use href="#b" x="468.44"/><use href="#b" x="490.38"/><use href="#b" x="495.87"/><use href="#b" x="534.26"/><use href="#b" x="539.75"/><use href="#b" x="556.21"/><use href="#b" x="572.66"/><use href="#b" x="578.14"/><use href="#b" x="594.60"/><use href="#b" x="611.06"/><use href="#b" x="616.54"/><use href="#b" x="643.97"/><use href="#b" x="649.45"/><use href="#b" x="660.42"/><use href="#b" x="671.39"/><use href="#b" x="676.88"/><use href="#b" x="682.36"/><use href="#b" x="687.85"/><use href="#b" x="709.79"/><use href="#b" x="715.27"/><use href="#b" x="748.18"/><use href="#b" x="753.66"/><use href="#b" x="759.15"/><use href="#b" x="781.09"/><use href="#b" x="786.58"/><use href="#b" x="792.06"/><use href="#b" x="797.55"/><use href="#b" x="808.51"/><use href="#b" x="814.00"/><use href="#b" x="819.49"/><use href="#b" x="824.97"/><use href="#b" x="846.91"/><use href="#b" x="857.88"/><use href="#b" x="863.37"/><use href="#b" x="874.34"/><use href="#b" x="885.31"/><use href="#b" x="890.79"/><use href="#b" x="912.73"/><use href="#b" x="929.18"/><use href="#b" x="934.67"/><use href="#b" x="940.15"/><use href="#b" x="956.61"/><use href="#b" x="962.10"/><use href="#b" x="973.07"/><use href="#b" x="989.52"/><use href="#b" x="995.01"/><use href="#b" x="1000.49"/><use href="#b" x="1038.88"/></g><g fill="#6f9e93"><use href="#b" x="408.11"/><use href="#b" x="413.59"/><use href="#b" x="451.99"/><use href="#b" x="462.96"/><use href="#b" x="484.90"/><use href="#b" x="501.36"/><use href="#b" x="506.84"/><use href="#b" x="517.81"/><use href="#b" x="523.29"/><use href="#b" x="528.78"/><use href="#b" x="545.24"/><use href="#b" x="550.72"/><use href="#b" x="561.69"/><use href="#b" x="567.17"/><use href="#b" x="583.63"/><use href="#b" x="589.12"/><use href="#b" x="600.09"/><use href="#b" x="605.57"/><use href="#b" x="622.02"/><use href="#b" x="638.48"/><use href="#b" x="654.93"/><use href="#b" x="665.90"/><use href="#b" x="693.33"/><use href="#b" x="698.82"/><use href="#b" x="704.30"/><use href="#b" x="720.75"/><use href="#b" x="726.24"/><use href="#b" x="731.73"/><use href="#b" x="742.69"/><use href="#b" x="764.63"/><use href="#b" x="770.12"/><use href="#b" x="775.61"/><use href="#b" x="803.03"/><use href="#b" x="830.46"/><use href="#b" x="852.39"/><use href="#b" x="879.82"/><use href="#b" x="896.28"/><use href="#b" x="901.76"/><use href="#b" x="907.25"/><use href="#b" x="918.21"/><use href="#b" x="923.70"/><use href="#b" x="945.64"/><use href="#b" x="951.12"/><use href="#b" x="978.55"/><use href="#b" x="984.04"/><use href="#b" x="1011.46"/><use href="#b" x="1027.91"/></g><g fill="#5c8f82"><use href="#b" x="473.93"/><use href="#b" x="627.51"/><use href="#b" x="633.00"/><use href="#b" x="737.21"/><use href="#b" x="835.94"/><use href="#b" x="868.85"/><use href="#b" x="967.58"/><use href="#b" x="1005.98"/></g><path fill="#0d4a3a" fill-opacity="0.09" d="M402.62 0h76.51v1.6h-76.51zM402.62 43.4h76.51v1.6h-76.51zM484.90 0h27.14v1.6h-27.14zM484.90 43.4h27.14v1.6h-27.14zM517.81 0h542.74v1.6h-542.74zM517.81 43.4h542.74v1.6h-542.74z"/></g>
<g transform="translate(0,810.0)"><g fill="#d0e2dc"><use href="#b" x="391.65"/><use href="#b" x="1022.43"/><use href="#b" x="1027.91"/></g><g fill="#9fc0b8"><use href="#b" x="386.17"/><use href="#b" x="627.51"/><use href="#b" x="852.39"/><use href="#b" x="962.10"/><use href="#b" x="995.01"/><use href="#b" x="1000.49"/><use href="#b" x="1005.98"/></g><g fill="#82ada5"><use href="#b" x="402.62"/><use href="#b" x="413.59"/><use href="#b" x="419.08"/><use href="#b" x="441.02"/><use href="#b" x="446.50"/><use href="#b" x="468.44"/><use href="#b" x="484.90"/><use href="#b" x="490.38"/><use href="#b" x="495.87"/><use href="#b" x="501.36"/><use href="#b" x="506.84"/><use href="#b" x="512.33"/><use href="#b" x="517.81"/><use href="#b" x="523.29"/><use href="#b" x="528.78"/><use href="#b" x="545.24"/><use href="#b" x="550.72"/><use href="#b" x="556.21"/><use href="#b" x="561.69"/><use href="#b" x="567.17"/><use href="#b" x="578.14"/><use href="#b" x="583.63"/><use href="#b" x="589.12"/><use href="#b" x="605.57"/><use href="#b" x="616.54"/><use href="#b" x="622.02"/><use href="#b" x="643.97"/><use href="#b" x="649.45"/><use href="#b" x="660.42"/><use href="#b" x="682.36"/><use href="#b" x="687.85"/><use href="#b" x="704.30"/><use href="#b" x="709.79"/><use href="#b" x="715.27"/><use href="#b" x="731.73"/><use href="#b" x="742.69"/><use href="#b" x="748.18"/><use href="#b" x="753.66"/><use href="#b" x="759.15"/><use href="#b" x="775.61"/><use href="#b" x="781.09"/><use href="#b" x="786.58"/><use href="#b" x="797.55"/><use href="#b" x="803.03"/><use href="#b" x="814.00"/><use href="#b" x="819.49"/><use href="#b" x="830.46"/><use href="#b" x="835.94"/><use href="#b" x="846.91"/><use href="#b" x="857.88"/><use href="#b" x="868.85"/><use href="#b" x="885.31"/><use href="#b" x="890.79"/><use href="#b" x="896.28"/><use href="#b" x="901.76"/><use href="#b" x="907.25"/><use href="#b" x="912.73"/><use href="#b" x="918.21"/><use href="#b" x="923.70"/><use href="#b" x="934.67"/><use href="#b" x="940.15"/><use href="#b" x="945.64"/><use href="#b" x="951.12"/><use href="#b" x="956.61"/><use href="#b" x="1011.46"/><use href="#b" x="1016.94"/></g><g fill="#6f9e93"><use href="#b" x="375.20"/><use href="#b" x="380.69"/><use href="#b" x="397.14"/><use href="#b" x="408.11"/><use href="#b" x="424.56"/><use href="#b" x="451.99"/><use href="#b" x="457.48"/><use href="#b" x="462.96"/><use href="#b" x="473.93"/><use href="#b" x="479.41"/><use href="#b" x="534.26"/><use href="#b" x="539.75"/><use href="#b" x="572.66"/><use href="#b" x="594.60"/><use href="#b" x="600.09"/><use href="#b" x="611.06"/><use href="#b" x="633.00"/><use href="#b" x="638.48"/><use href="#b" x="654.93"/><use href="#b" x="665.90"/><use href="#b" x="676.88"/><use href="#b" x="693.33"/><use href="#b" x="698.82"/><use href="#b" x="720.75"/><use href="#b" x="726.24"/><use href="#b" x="737.21"/><use href="#b" x="764.63"/><use href="#b" x="770.12"/><use href="#b" x="792.06"/><use href="#b" x="808.51"/><use href="#b" x="824.97"/><use href="#b" x="841.42"/><use href="#b" x="863.37"/><use href="#b" x="874.34"/><use href="#b" x="879.82"/><use href="#b" x="929.18"/><use href="#b" x="967.58"/><use href="#b" x="973.07"/><use href="#b" x="978.55"/><use href="#b" x="984.04"/><use href="#b" x="989.52"/></g><g fill="#5c8f82"><use href="#b" x="430.05"/><use href="#b" x="435.53"/><use href="#b" x="671.39"/></g><path fill="#0d4a3a" fill-opacity="0.09" d="M375.20 0h657.92v1.6h-657.92zM375.20 43.4h657.92v1.6h-657.92z"/></g>
<g transform="translate(0,870.0)"><g fill="#d0e2dc"><use href="#b" x="397.14"/><use href="#b" x="934.67"/><use href="#b" x="945.64"/></g><g fill="#9fc0b8"><use href="#b" x="375.20"/><use href="#b" x="380.69"/><use href="#b" x="386.17"/><use href="#b" x="391.65"/><use href="#b" x="896.28"/><use href="#b" x="901.76"/><use href="#b" x="907.25"/><use href="#b" x="929.18"/></g><g fill="#82ada5"><use href="#b" x="424.56"/><use href="#b" x="430.05"/><use href="#b" x="435.53"/><use href="#b" x="446.50"/><use href="#b" x="468.44"/><use href="#b" x="473.93"/><use href="#b" x="479.41"/><use href="#b" x="495.87"/><use href="#b" x="528.78"/><use href="#b" x="534.26"/><use href="#b" x="539.75"/><use href="#b" x="545.24"/><use href="#b" x="550.72"/><use href="#b" x="556.21"/><use href="#b" x="567.17"/><use href="#b" x="572.66"/><use href="#b" x="578.14"/><use href="#b" x="594.60"/><use href="#b" x="600.09"/><use href="#b" x="605.57"/><use href="#b" x="611.06"/><use href="#b" x="616.54"/><use href="#b" x="633.00"/><use href="#b" x="643.97"/><use href="#b" x="649.45"/><use href="#b" x="654.93"/><use href="#b" x="660.42"/><use href="#b" x="665.90"/><use href="#b" x="676.88"/><use href="#b" x="715.27"/><use href="#b" x="731.73"/><use href="#b" x="742.69"/><use href="#b" x="748.18"/><use href="#b" x="753.66"/><use href="#b" x="770.12"/><use href="#b" x="775.61"/><use href="#b" x="786.58"/><use href="#b" x="792.06"/><use href="#b" x="797.55"/><use href="#b" x="814.00"/><use href="#b" x="819.49"/><use href="#b" x="824.97"/><use href="#b" x="835.94"/><use href="#b" x="846.91"/><use href="#b" x="852.39"/><use href="#b" x="857.88"/><use href="#b" x="863.37"/><use href="#b" x="868.85"/><use href="#b" x="879.82"/><use href="#b" x="885.31"/><use href="#b" x="918.21"/><use href="#b" x="923.70"/></g><g fill="#6f9e93"><use href="#b" x="402.62"/><use href="#b" x="408.11"/><use href="#b" x="413.59"/><use href="#b" x="419.08"/><use href="#b" x="441.02"/><use href="#b" x="457.48"/><use href="#b" x="462.96"/><use href="#b" x="484.90"/><use href="#b" x="490.38"/><use href="#b" x="501.36"/><use href="#b" x="506.84"/><use href="#b" x="517.81"/><use href="#b" x="523.29"/><use href="#b" x="561.69"/><use href="#b" x="583.63"/><use href="#b" x="589.12"/><use href="#b" x="622.02"/><use href="#b" x="627.51"/><use href="#b" x="638.48"/><use href="#b" x="682.36"/><use href="#b" x="687.85"/><use href="#b" x="693.33"/><use href="#b" x="698.82"/><use href="#b" x="704.30"/><use href="#b" x="709.79"/><use href="#b" x="726.24"/><use href="#b" x="737.21"/><use href="#b" x="759.15"/><use href="#b" x="764.63"/><use href="#b" x="781.09"/><use href="#b" x="808.51"/><use href="#b" x="830.46"/><use href="#b" x="841.42"/><use href="#b" x="874.34"/><use href="#b" x="890.79"/><use href="#b" x="912.73"/></g><g fill="#5c8f82"><use href="#b" x="451.99"/><use href="#b" x="512.33"/><use href="#b" x="671.39"/><use href="#b" x="720.75"/><use href="#b" x="803.03"/></g><path fill="#0d4a3a" fill-opacity="0.09" d="M375.20 0h564.68v1.6h-564.68zM375.20 43.4h564.68v1.6h-564.68zM945.64 0h5.21v1.6h-5.21zM945.64 43.4h5.21v1.6h-5.21z"/></g>
<g transform="translate(0,930.0)"><g fill="#d0e2dc"><use href="#b" x="1165.04"/></g><g fill="#9fc0b8"><use href="#b" x="408.11"/><use href="#b" x="419.08"/><use href="#b" x="424.56"/><use href="#b" x="430.05"/><use href="#b" x="441.02"/><use href="#b" x="446.50"/><use href="#b" x="567.17"/><use href="#b" x="594.60"/><use href="#b" x="874.34"/><use href="#b" x="995.01"/><use href="#b" x="1082.77"/><use href="#b" x="1099.22"/></g><g fill="#82ada5"><use href="#b" x="413.59"/><use href="#b" x="435.53"/><use href="#b" x="451.99"/><use href="#b" x="457.48"/><use href="#b" x="462.96"/><use href="#b" x="468.44"/><use href="#b" x="479.41"/><use href="#b" x="495.87"/><use href="#b" x="501.36"/><use href="#b" x="506.84"/><use href="#b" x="512.33"/><use href="#b" x="517.81"/><use href="#b" x="534.26"/><use href="#b" x="539.75"/><use href="#b" x="545.24"/><use href="#b" x="550.72"/><use href="#b" x="578.14"/><use href="#b" x="583.63"/><use href="#b" x="589.12"/><use href="#b" x="611.06"/><use href="#b" x="616.54"/><use href="#b" x="627.51"/><use href="#b" x="633.00"/><use href="#b" x="643.97"/><use href="#b" x="649.45"/><use href="#b" x="654.93"/><use href="#b" x="665.90"/><use href="#b" x="676.88"/><use href="#b" x="693.33"/><use href="#b" x="698.82"/><use href="#b" x="704.30"/><use href="#b" x="731.73"/><use href="#b" x="737.21"/><use href="#b" x="742.69"/><use href="#b" x="753.66"/><use href="#b" x="759.15"/><use href="#b" x="764.63"/><use href="#b" x="770.12"/><use href="#b" x="781.09"/><use href="#b" x="786.58"/><use href="#b" x="808.51"/><use href="#b" x="830.46"/><use href="#b" x="835.94"/><use href="#b" x="846.91"/><use href="#b" x="857.88"/><use href="#b" x="863.37"/><use href="#b" x="879.82"/><use href="#b" x="885.31"/><use href="#b" x="890.79"/><use href="#b" x="912.73"/><use href="#b" x="923.70"/><use href="#b" x="945.64"/><use href="#b" x="951.12"/><use href="#b" x="956.61"/><use href="#b" x="962.10"/><use href="#b" x="973.07"/><use href="#b" x="984.04"/><use href="#b" x="1027.91"/><use href="#b" x="1038.88"/><use href="#b" x="1049.86"/><use href="#b" x="1060.83"/><use href="#b" x="1066.31"/><use href="#b" x="1077.28"/><use href="#b" x="1088.25"/><use href="#b" x="1093.74"/><use href="#b" x="1104.70"/><use href="#b" x="1110.19"/><use href="#b" x="1115.67"/><use href="#b" x="1121.16"/><use href="#b" x="1126.64"/><use href="#b" x="1143.10"/><use href="#b" x="1148.59"/><use href="#b" x="1154.07"/><use href="#b" x="1159.56"/></g><g fill="#6f9e93"><use href="#b" x="473.93"/><use href="#b" x="484.90"/><use href="#b" x="490.38"/><use href="#b" x="523.29"/><use href="#b" x="528.78"/><use href="#b" x="556.21"/><use href="#b" x="561.69"/><use href="#b" x="572.66"/><use href="#b" x="600.09"/><use href="#b" x="622.02"/><use href="#b" x="638.48"/><use href="#b" x="660.42"/><use href="#b" x="671.39"/><use href="#b" x="682.36"/><use href="#b" x="687.85"/><use href="#b" x="709.79"/><use href="#b" x="715.27"/><use href="#b" x="720.75"/><use href="#b" x="726.24"/><use href="#b" x="748.18"/><use href="#b" x="775.61"/><use href="#b" x="797.55"/><use href="#b" x="814.00"/><use href="#b" x="819.49"/><use href="#b" x="824.97"/><use href="#b" x="841.42"/><use href="#b" x="852.39"/><use href="#b" x="868.85"/><use href="#b" x="896.28"/><use href="#b" x="918.21"/><use href="#b" x="929.18"/><use href="#b" x="934.67"/><use href="#b" x="940.15"/><use href="#b" x="967.58"/><use href="#b" x="978.55"/><use href="#b" x="989.52"/><use href="#b" x="1000.49"/><use href="#b" x="1011.46"/><use href="#b" x="1016.94"/><use href="#b" x="1022.43"/><use href="#b" x="1033.40"/><use href="#b" x="1044.37"/><use href="#b" x="1055.34"/><use href="#b" x="1071.80"/><use href="#b" x="1132.13"/><use href="#b" x="1137.62"/></g><g fill="#5c8f82"><use href="#b" x="605.57"/><use href="#b" x="792.06"/><use href="#b" x="803.03"/><use href="#b" x="901.76"/><use href="#b" x="907.25"/><use href="#b" x="1005.98"/></g><path fill="#0d4a3a" fill-opacity="0.09" d="M408.11 0h762.14v1.6h-762.14zM408.11 43.4h762.14v1.6h-762.14z"/></g>
<g transform="translate(0,990.0)"><g fill="#d0e2dc"><use href="#b" x="1038.88"/><use href="#b" x="1055.34"/></g><g fill="#9fc0b8"><use href="#b" x="386.17"/><use href="#b" x="391.65"/><use href="#b" x="397.14"/><use href="#b" x="622.02"/><use href="#b" x="742.69"/><use href="#b" x="874.34"/><use href="#b" x="995.01"/><use href="#b" x="1022.43"/><use href="#b" x="1033.40"/><use href="#b" x="1044.37"/></g><g fill="#82ada5"><use href="#b" x="380.69"/><use href="#b" x="402.62"/><use href="#b" x="408.11"/><use href="#b" x="419.08"/><use href="#b" x="424.56"/><use href="#b" x="435.53"/><use href="#b" x="451.99"/><use href="#b" x="457.48"/><use href="#b" x="462.96"/><use href="#b" x="495.87"/><use href="#b" x="501.36"/><use href="#b" x="506.84"/><use href="#b" x="512.33"/><use href="#b" x="539.75"/><use href="#b" x="556.21"/><use href="#b" x="561.69"/><use href="#b" x="567.17"/><use href="#b" x="578.14"/><use href="#b" x="583.63"/><use href="#b" x="600.09"/><use href="#b" x="616.54"/><use href="#b" x="654.93"/><use href="#b" x="660.42"/><use href="#b" x="671.39"/><use href="#b" x="682.36"/><use href="#b" x="687.85"/><use href="#b" x="698.82"/><use href="#b" x="731.73"/><use href="#b" x="753.66"/><use href="#b" x="759.15"/><use href="#b" x="770.12"/><use href="#b" x="775.61"/><use href="#b" x="786.58"/><use href="#b" x="792.06"/><use href="#b" x="797.55"/><use href="#b" x="808.51"/><use href="#b" x="819.49"/><use href="#b" x="830.46"/><use href="#b" x="846.91"/><use href="#b" x="852.39"/><use href="#b" x="857.88"/><use href="#b" x="863.37"/><use href="#b" x="896.28"/><use href="#b" x="901.76"/><use href="#b" x="907.25"/><use href="#b" x="912.73"/><use href="#b" x="918.21"/><use href="#b" x="923.70"/><use href="#b" x="945.64"/><use href="#b" x="951.12"/><use href="#b" x="967.58"/><use href="#b" x="978.55"/><use href="#b" x="1005.98"/><use href="#b" x="1016.94"/></g><g fill="#6f9e93"><use href="#b" x="413.59"/><use href="#b" x="430.05"/><use href="#b" x="441.02"/><use href="#b" x="446.50"/><use href="#b" x="468.44"/><use href="#b" x="473.93"/><use href="#b" x="479.41"/><use href="#b" x="484.90"/><use href="#b" x="490.38"/><use href="#b" x="517.81"/><use href="#b" x="523.29"/><use href="#b" x="534.26"/><use href="#b" x="545.24"/><use href="#b" x="572.66"/><use href="#b" x="594.60"/><use href="#b" x="605.57"/><use href="#b" x="611.06"/><use href="#b" x="627.51"/><use href="#b" x="633.00"/><use href="#b" x="638.48"/><use href="#b" x="643.97"/><use href="#b" x="649.45"/><use href="#b" x="665.90"/><use href="#b" x="676.88"/><use href="#b" x="693.33"/><use href="#b" x="704.30"/><use href="#b" x="709.79"/><use href="#b" x="715.27"/><use href="#b" x="720.75"/><use href="#b" x="726.24"/><use href="#b" x="737.21"/><use href="#b" x="764.63"/><use href="#b" x="781.09"/><use href="#b" x="803.03"/><use href="#b" x="814.00"/><use href="#b" x="824.97"/><use href="#b" x="835.94"/><use href="#b" x="841.42"/><use href="#b" x="868.85"/><use href="#b" x="879.82"/><use href="#b" x="885.31"/><use href="#b" x="929.18"/><use href="#b" x="934.67"/><use href="#b" x="940.15"/><use href="#b" x="956.61"/><use href="#b" x="962.10"/><use href="#b" x="973.07"/><use href="#b" x="984.04"/><use href="#b" x="989.52"/><use href="#b" x="1000.49"/><use href="#b" x="1011.46"/><use href="#b" x="1027.91"/><use href="#b" x="1049.86"/></g><g fill="#5c8f82"><use href="#b" x="528.78"/><use href="#b" x="550.72"/><use href="#b" x="589.12"/><use href="#b" x="748.18"/><use href="#b" x="890.79"/></g><path fill="#0d4a3a" fill-opacity="0.09" d="M380.69 0h679.86v1.6h-679.86zM380.69 43.4h679.86v1.6h-679.86z"/></g>
<g transform="translate(0,1050.0)"><g fill="#d0e2dc"><use href="#b" x="435.53"/><use href="#b" x="441.02"/><use href="#b" x="446.50"/><use href="#b" x="451.99"/><use href="#b" x="457.48"/><use href="#b" x="1159.56"/></g><g fill="#9fc0b8"><use href="#b" x="462.96"/><use href="#b" x="528.78"/><use href="#b" x="594.60"/><use href="#b" x="715.27"/><use href="#b" x="786.58"/><use href="#b" x="1165.04"/></g><g fill="#82ada5"><use href="#b" x="484.90"/><use href="#b" x="495.87"/><use href="#b" x="501.36"/><use href="#b" x="506.84"/><use href="#b" x="512.33"/><use href="#b" x="517.81"/><use href="#b" x="534.26"/><use href="#b" x="539.75"/><use href="#b" x="545.24"/><use href="#b" x="556.21"/><use href="#b" x="567.17"/><use href="#b" x="583.63"/><use href="#b" x="589.12"/><use href="#b" x="616.54"/><use href="#b" x="627.51"/><use href="#b" x="638.48"/><use href="#b" x="660.42"/><use href="#b" x="682.36"/><use href="#b" x="687.85"/><use href="#b" x="693.33"/><use href="#b" x="704.30"/><use href="#b" x="726.24"/><use href="#b" x="731.73"/><use href="#b" x="742.69"/><use href="#b" x="775.61"/><use href="#b" x="797.55"/><use href="#b" x="803.03"/><use href="#b" x="808.51"/><use href="#b" x="819.49"/><use href="#b" x="824.97"/><use href="#b" x="846.91"/><use href="#b" x="879.82"/><use href="#b" x="885.31"/><use href="#b" x="890.79"/><use href="#b" x="901.76"/><use href="#b" x="918.21"/><use href="#b" x="923.70"/><use href="#b" x="929.18"/><use href="#b" x="945.64"/><use href="#b" x="956.61"/><use href="#b" x="967.58"/><use href="#b" x="973.07"/><use href="#b" x="978.55"/><use href="#b" x="984.04"/><use href="#b" x="1000.49"/><use href="#b" x="1005.98"/><use href="#b" x="1016.94"/><use href="#b" x="1022.43"/><use href="#b" x="1027.91"/><use href="#b" x="1033.40"/><use href="#b" x="1038.88"/><use href="#b" x="1049.86"/><use href="#b" x="1055.34"/><use href="#b" x="1060.83"/><use href="#b" x="1066.31"/><use href="#b" x="1071.80"/><use href="#b" x="1093.74"/><use href="#b" x="1099.22"/><use href="#b" x="1110.19"/><use href="#b" x="1115.67"/><use href="#b" x="1121.16"/><use href="#b" x="1143.10"/><use href="#b" x="1154.07"/></g><g fill="#6f9e93"><use href="#b" x="468.44"/><use href="#b" x="473.93"/><use href="#b" x="479.41"/><use href="#b" x="490.38"/><use href="#b" x="523.29"/><use href="#b" x="550.72"/><use href="#b" x="561.69"/><use href="#b" x="572.66"/><use href="#b" x="578.14"/><use href="#b" x="600.09"/><use href="#b" x="605.57"/><use href="#b" x="611.06"/><use href="#b" x="622.02"/><use href="#b" x="633.00"/><use href="#b" x="643.97"/><use href="#b" x="649.45"/><use href="#b" x="654.93"/><use href="#b" x="665.90"/><use href="#b" x="671.39"/><use href="#b" x="676.88"/><use href="#b" x="698.82"/><use href="#b" x="709.79"/><use href="#b" x="720.75"/><use href="#b" x="737.21"/><use href="#b" x="748.18"/><use href="#b" x="753.66"/><use href="#b" x="759.15"/><use href="#b" x="770.12"/><use href="#b" x="781.09"/><use href="#b" x="830.46"/><use href="#b" x="835.94"/><use href="#b" x="841.42"/><use href="#b" x="852.39"/><use href="#b" x="857.88"/><use href="#b" x="863.37"/><use href="#b" x="868.85"/><use href="#b" x="874.34"/><use href="#b" x="896.28"/><use href="#b" x="912.73"/><use href="#b" x="934.67"/><use href="#b" x="951.12"/><use href="#b" x="962.10"/><use href="#b" x="995.01"/><use href="#b" x="1011.46"/><use href="#b" x="1077.28"/><use href="#b" x="1082.77"/><use href="#b" x="1088.25"/><use href="#b" x="1126.64"/><use href="#b" x="1132.13"/><use href="#b" x="1148.59"/></g><g fill="#5c8f82"><use href="#b" x="764.63"/><use href="#b" x="792.06"/><use href="#b" x="814.00"/><use href="#b" x="907.25"/><use href="#b" x="940.15"/><use href="#b" x="989.52"/><use href="#b" x="1044.37"/><use href="#b" x="1104.70"/><use href="#b" x="1137.62"/></g><path fill="#0d4a3a" fill-opacity="0.09" d="M435.53 0h734.71v1.6h-734.71zM435.53 43.4h734.71v1.6h-734.71z"/></g>
<g transform="translate(0,1110.0)"><g fill="#d0e2dc"><use href="#b" x="380.69"/><use href="#b" x="430.05"/><use href="#b" x="1055.34"/><use href="#b" x="1088.25"/></g><g fill="#9fc0b8"><use href="#b" x="375.20"/><use href="#b" x="391.65"/><use href="#b" x="397.14"/><use href="#b" x="457.48"/><use href="#b" x="473.93"/><use href="#b" x="556.21"/><use href="#b" x="682.36"/><use href="#b" x="687.85"/><use href="#b" x="737.21"/><use href="#b" x="967.58"/><use href="#b" x="1000.49"/><use href="#b" x="1005.98"/><use href="#b" x="1022.43"/><use href="#b" x="1027.91"/><use href="#b" x="1038.88"/><use href="#b" x="1044.37"/><use href="#b" x="1049.86"/><use href="#b" x="1060.83"/><use href="#b" x="1066.31"/><use href="#b" x="1071.80"/><use href="#b" x="1077.28"/></g><g fill="#82ada5"><use href="#b" x="402.62"/><use href="#b" x="408.11"/><use href="#b" x="424.56"/><use href="#b" x="446.50"/><use href="#b" x="451.99"/><use href="#b" x="490.38"/><use href="#b" x="495.87"/><use href="#b" x="501.36"/><use href="#b" x="506.84"/><use href="#b" x="512.33"/><use href="#b" x="517.81"/><use href="#b" x="539.75"/><use href="#b" x="550.72"/><use href="#b" x="561.69"/><use href="#b" x="578.14"/><use href="#b" x="589.12"/><use href="#b" x="594.60"/><use href="#b" x="600.09"/><use href="#b" x="605.57"/><use href="#b" x="611.06"/><use href="#b" x="616.54"/><use href="#b" x="627.51"/><use href="#b" x="633.00"/><use href="#b" x="643.97"/><use href="#b" x="649.45"/><use href="#b" x="654.93"/><use href="#b" x="660.42"/><use href="#b" x="693.33"/><use href="#b" x="698.82"/><use href="#b" x="704.30"/><use href="#b" x="715.27"/><use href="#b" x="726.24"/><use href="#b" x="731.73"/><use href="#b" x="742.69"/><use href="#b" x="748.18"/><use href="#b" x="759.15"/><use href="#b" x="775.61"/><use href="#b" x="786.58"/><use href="#b" x="792.06"/><use href="#b" x="814.00"/><use href="#b" x="819.49"/><use href="#b" x="824.97"/><use href="#b" x="830.46"/><use href="#b" x="841.42"/><use href="#b" x="857.88"/><use href="#b" x="874.34"/><use href="#b" x="901.76"/><use href="#b" x="912.73"/><use href="#b" x="918.21"/><use href="#b" x="923.70"/><use href="#b" x="929.18"/><use href="#b" x="934.67"/><use href="#b" x="951.12"/><use href="#b" x="956.61"/><use href="#b" x="973.07"/><use href="#b" x="978.55"/><use href="#b" x="984.04"/><use href="#b" x="1082.77"/></g><g fill="#6f9e93"><use href="#b" x="413.59"/><use href="#b" x="419.08"/><use href="#b" x="435.53"/><use href="#b" x="462.96"/><use href="#b" x="468.44"/><use href="#b" x="479.41"/><use href="#b" x="484.90"/><use href="#b" x="523.29"/><use href="#b" x="528.78"/><use href="#b" x="534.26"/><use href="#b" x="545.24"/><use href="#b" x="567.17"/><use href="#b" x="572.66"/><use href="#b" x="583.63"/><use href="#b" x="622.02"/><use href="#b" x="638.48"/><use href="#b" x="665.90"/><use href="#b" x="671.39"/><use href="#b" x="676.88"/><use href="#b" x="709.79"/><use href="#b" x="770.12"/><use href="#b" x="781.09"/><use href="#b" x="797.55"/><use href="#b" x="803.03"/><use href="#b" x="808.51"/><use href="#b" x="835.94"/><use href="#b" x="846.91"/><use href="#b" x="852.39"/><use href="#b" x="863.37"/><use href="#b" x="868.85"/><use href="#b" x="879.82"/><use href="#b" x="885.31"/><use href="#b" x="896.28"/><use href="#b" x="907.25"/><use href="#b" x="940.15"/><use href="#b" x="945.64"/><use href="#b" x="962.10"/><use href="#b" x="989.52"/><use href="#b" x="995.01"/><use href="#b" x="1011.46"/><use href="#b" x="1016.94"/><use href="#b" x="1033.40"/><use href="#b" x="1099.22"/></g><g fill="#5c8f82"><use href="#b" x="441.02"/><use href="#b" x="720.75"/><use href="#b" x="753.66"/><use href="#b" x="764.63"/><use href="#b" x="890.79"/></g><path fill="#0d4a3a" fill-opacity="0.09" d="M375.20 0h10.69v1.6h-10.69zM375.20 43.4h10.69v1.6h-10.69zM391.65 0h701.80v1.6h-701.80zM391.65 43.4h701.80v1.6h-701.80zM1099.22 0h5.21v1.6h-5.21zM1099.22 43.4h5.21v1.6h-5.21z"/></g>
<g transform="translate(0,1170.0)"><g fill="#d0e2dc"><use href="#b" x="457.48"/></g><g fill="#9fc0b8"><use href="#b" x="649.45"/><use href="#b" x="819.49"/><use href="#b" x="901.76"/><use href="#b" x="1197.95"/><use href="#b" x="1203.43"/></g><g fill="#82ada5"><use href="#b" x="424.56"/><use href="#b" x="441.02"/><use href="#b" x="446.50"/><use href="#b" x="451.99"/><use href="#b" x="462.96"/><use href="#b" x="468.44"/><use href="#b" x="490.38"/><use href="#b" x="495.87"/><use href="#b" x="506.84"/><use href="#b" x="512.33"/><use href="#b" x="517.81"/><use href="#b" x="523.29"/><use href="#b" x="528.78"/><use href="#b" x="534.26"/><use href="#b" x="539.75"/><use href="#b" x="550.72"/><use href="#b" x="561.69"/><use href="#b" x="572.66"/><use href="#b" x="594.60"/><use href="#b" x="605.57"/><use href="#b" x="633.00"/><use href="#b" x="654.93"/><use href="#b" x="660.42"/><use href="#b" x="665.90"/><use href="#b" x="671.39"/><use href="#b" x="676.88"/><use href="#b" x="682.36"/><use href="#b" x="698.82"/><use href="#b" x="715.27"/><use href="#b" x="731.73"/><use href="#b" x="737.21"/><use href="#b" x="742.69"/><use href="#b" x="753.66"/><use href="#b" x="764.63"/><use href="#b" x="775.61"/><use href="#b" x="786.58"/><use href="#b" x="814.00"/><use href="#b" x="830.46"/><use href="#b" x="835.94"/><use href="#b" x="841.42"/><use href="#b" x="846.91"/><use href="#b" x="852.39"/><use href="#b" x="857.88"/><use href="#b" x="868.85"/><use href="#b" x="874.34"/><use href="#b" x="885.31"/><use href="#b" x="896.28"/><use href="#b" x="907.25"/><use href="#b" x="912.73"/><use href="#b" x="918.21"/><use href="#b" x="923.70"/><use href="#b" x="934.67"/><use href="#b" x="967.58"/><use href="#b" x="973.07"/><use href="#b" x="978.55"/><use href="#b" x="984.04"/><use href="#b" x="989.52"/><use href="#b" x="995.01"/><use href="#b" x="1000.49"/><use href="#b" x="1011.46"/><use href="#b" x="1016.94"/><use href="#b" x="1027.91"/><use href="#b" x="1044.37"/><use href="#b" x="1049.86"/><use href="#b" x="1060.83"/><use href="#b" x="1066.31"/><use href="#b" x="1082.77"/><use href="#b" x="1099.22"/><use href="#b" x="1104.70"/><use href="#b" x="1110.19"/><use href="#b" x="1126.64"/><use href="#b" x="1148.59"/><use href="#b" x="1154.07"/><use href="#b" x="1170.53"/><use href="#b" x="1176.01"/><use href="#b" x="1186.98"/><use href="#b" x="1192.47"/></g><g fill="#6f9e93"><use href="#b" x="430.05"/><use href="#b" x="473.93"/><use href="#b" x="479.41"/><use href="#b" x="484.90"/><use href="#b" x="501.36"/><use href="#b" x="545.24"/><use href="#b" x="556.21"/><use href="#b" x="567.17"/><use href="#b" x="578.14"/><use href="#b" x="589.12"/><use href="#b" x="600.09"/><use href="#b" x="616.54"/><use href="#b" x="622.02"/><use href="#b" x="627.51"/><use href="#b" x="638.48"/><use href="#b" x="643.97"/><use href="#b" x="687.85"/><use href="#b" x="693.33"/><use href="#b" x="704.30"/><use href="#b" x="709.79"/><use href="#b" x="720.75"/><use href="#b" x="726.24"/><use href="#b" x="748.18"/><use href="#b" x="759.15"/><use href="#b" x="770.12"/><use href="#b" x="781.09"/><use href="#b" x="792.06"/><use href="#b" x="803.03"/><use href="#b" x="808.51"/><use href="#b" x="824.97"/><use href="#b" x="879.82"/><use href="#b" x="890.79"/><use href="#b" x="929.18"/><use href="#b" x="940.15"/><use href="#b" x="945.64"/><use href="#b" x="951.12"/><use href="#b" x="956.61"/><use href="#b" x="962.10"/><use href="#b" x="1022.43"/><use href="#b" x="1033.40"/><use href="#b" x="1038.88"/><use href="#b" x="1055.34"/><use href="#b" x="1071.80"/><use href="#b" x="1077.28"/><use href="#b" x="1088.25"/><use href="#b" x="1093.74"/><use href="#b" x="1115.67"/><use href="#b" x="1121.16"/><use href="#b" x="1132.13"/><use href="#b" x="1137.62"/><use href="#b" x="1159.56"/><use href="#b" x="1165.04"/><use href="#b" x="1181.50"/></g><g fill="#5c8f82"><use href="#b" x="435.53"/><use href="#b" x="583.63"/><use href="#b" x="611.06"/><use href="#b" x="797.55"/><use href="#b" x="863.37"/><use href="#b" x="1005.98"/><use href="#b" x="1143.10"/></g><path fill="#0d4a3a" fill-opacity="0.09" d="M424.56 0h784.08v1.6h-784.08zM424.56 43.4h784.08v1.6h-784.08z"/></g>
<g transform="translate(0,1230.0)"><g fill="#d0e2dc"><use href="#b" x="1088.25"/><use href="#b" x="1099.22"/><use href="#b" x="1110.19"/></g><g fill="#9fc0b8"><use href="#b" x="386.17"/><use href="#b" x="775.61"/><use href="#b" x="956.61"/><use href="#b" x="1044.37"/><use href="#b" x="1077.28"/><use href="#b" x="1082.77"/></g><g fill="#82ada5"><use href="#b" x="380.69"/><use href="#b" x="391.65"/><use href="#b" x="397.14"/><use href="#b" x="402.62"/><use href="#b" x="408.11"/><use href="#b" x="413.59"/><use href="#b" x="419.08"/><use href="#b" x="435.53"/><use href="#b" x="441.02"/><use href="#b" x="451.99"/><use href="#b" x="462.96"/><use href="#b" x="468.44"/><use href="#b" x="473.93"/><use href="#b" x="484.90"/><use href="#b" x="495.87"/><use href="#b" x="501.36"/><use href="#b" x="506.84"/><use href="#b" x="517.81"/><use href="#b" x="534.26"/><use href="#b" x="539.75"/><use href="#b" x="545.24"/><use href="#b" x="550.72"/><use href="#b" x="556.21"/><use href="#b" x="567.17"/><use href="#b" x="572.66"/><use href="#b" x="578.14"/><use href="#b" x="583.63"/><use href="#b" x="594.60"/><use href="#b" x="605.57"/><use href="#b" x="611.06"/><use href="#b" x="616.54"/><use href="#b" x="622.02"/><use href="#b" x="627.51"/><use href="#b" x="633.00"/><use href="#b" x="638.48"/><use href="#b" x="643.97"/><use href="#b" x="649.45"/><use href="#b" x="654.93"/><use href="#b" x="693.33"/><use href="#b" x="704.30"/><use href="#b" x="709.79"/><use href="#b" x="715.27"/><use href="#b" x="726.24"/><use href="#b" x="731.73"/><use href="#b" x="742.69"/><use href="#b" x="748.18"/><use href="#b" x="753.66"/><use href="#b" x="764.63"/><use href="#b" x="770.12"/><use href="#b" x="781.09"/><use href="#b" x="786.58"/><use href="#b" x="803.03"/><use href="#b" x="808.51"/><use href="#b" x="830.46"/><use href="#b" x="841.42"/><use href="#b" x="852.39"/><use href="#b" x="874.34"/><use href="#b" x="879.82"/><use href="#b" x="885.31"/><use href="#b" x="890.79"/><use href="#b" x="896.28"/><use href="#b" x="912.73"/><use href="#b" x="918.21"/><use href="#b" x="929.18"/><use href="#b" x="934.67"/><use href="#b" x="940.15"/><use href="#b" x="945.64"/><use href="#b" x="962.10"/><use href="#b" x="973.07"/><use href="#b" x="978.55"/><use href="#b" x="989.52"/><use href="#b" x="1000.49"/><use href="#b" x="1005.98"/><use href="#b" x="1033.40"/><use href="#b" x="1038.88"/><use href="#b" x="1055.34"/><use href="#b" x="1060.83"/></g><g fill="#6f9e93"><use href="#b" x="424.56"/><use href="#b" x="430.05"/><use href="#b" x="446.50"/><use href="#b" x="457.48"/><use href="#b" x="490.38"/><use href="#b" x="523.29"/><use href="#b" x="528.78"/><use href="#b" x="561.69"/><use href="#b" x="589.12"/><use href="#b" x="600.09"/><use href="#b" x="660.42"/><use href="#b" x="665.90"/><use href="#b" x="671.39"/><use href="#b" x="676.88"/><use href="#b" x="682.36"/><use href="#b" x="698.82"/><use href="#b" x="720.75"/><use href="#b" x="737.21"/><use href="#b" x="759.15"/><use href="#b" x="792.06"/><use href="#b" x="797.55"/><use href="#b" x="814.00"/><use href="#b" x="824.97"/><use href="#b" x="835.94"/><use href="#b" x="846.91"/><use href="#b" x="857.88"/><use href="#b" x="863.37"/><use href="#b" x="868.85"/><use href="#b" x="901.76"/><use href="#b" x="907.25"/><use href="#b" x="923.70"/><use href="#b" x="951.12"/><use href="#b" x="967.58"/><use href="#b" x="995.01"/><use href="#b" x="1011.46"/><use href="#b" x="1016.94"/><use href="#b" x="1022.43"/><use href="#b" x="1027.91"/><use href="#b" x="1049.86"/><use href="#b" x="1066.31"/><use href="#b" x="1071.80"/><use href="#b" x="1093.74"/></g><g fill="#5c8f82"><use href="#b" x="375.20"/><use href="#b" x="479.41"/><use href="#b" x="512.33"/><use href="#b" x="687.85"/><use href="#b" x="819.49"/><use href="#b" x="984.04"/></g><path fill="#0d4a3a" fill-opacity="0.09" d="M375.20 0h729.23v1.6h-729.23zM375.20 43.4h729.23v1.6h-729.23zM1110.19 0h5.21v1.6h-5.21zM1110.19 43.4h5.21v1.6h-5.21z"/></g>
<g transform="translate(0,1290.0)"><g fill="#d0e2dc"><use href="#b" x="391.65"/><use href="#b" x="413.59"/><use href="#b" x="1000.49"/><use href="#b" x="1011.46"/><use href="#b" x="1016.94"/></g><g fill="#9fc0b8"><use href="#b" x="397.14"/><use href="#b" x="402.62"/><use href="#b" x="408.11"/><use href="#b" x="419.08"/><use href="#b" x="430.05"/><use href="#b" x="479.41"/><use href="#b" x="495.87"/><use href="#b" x="835.94"/><use href="#b" x="874.34"/><use href="#b" x="1005.98"/></g><g fill="#82ada5"><use href="#b" x="424.56"/><use href="#b" x="441.02"/><use href="#b" x="446.50"/><use href="#b" x="451.99"/><use href="#b" x="457.48"/><use href="#b" x="473.93"/><use href="#b" x="501.36"/><use href="#b" x="512.33"/><use href="#b" x="517.81"/><use href="#b" x="528.78"/><use href="#b" x="534.26"/><use href="#b" x="545.24"/><use href="#b" x="550.72"/><use href="#b" x="556.21"/><use href="#b" x="567.17"/><use href="#b" x="572.66"/><use href="#b" x="578.14"/><use href="#b" x="583.63"/><use href="#b" x="589.12"/><use href="#b" x="594.60"/><use href="#b" x="600.09"/><use href="#b" x="616.54"/><use href="#b" x="622.02"/><use href="#b" x="633.00"/><use href="#b" x="638.48"/><use href="#b" x="643.97"/><use href="#b" x="649.45"/><use href="#b" x="654.93"/><use href="#b" x="660.42"/><use href="#b" x="665.90"/><use href="#b" x="671.39"/><use href="#b" x="676.88"/><use href="#b" x="693.33"/><use href="#b" x="698.82"/><use href="#b" x="715.27"/><use href="#b" x="720.75"/><use href="#b" x="726.24"/><use href="#b" x="731.73"/><use href="#b" x="737.21"/><use href="#b" x="742.69"/><use href="#b" x="759.15"/><use href="#b" x="775.61"/><use href="#b" x="781.09"/><use href="#b" x="786.58"/><use href="#b" x="797.55"/><use href="#b" x="803.03"/><use href="#b" x="819.49"/><use href="#b" x="841.42"/><use href="#b" x="868.85"/><use href="#b" x="885.31"/><use href="#b" x="890.79"/><use href="#b" x="896.28"/><use href="#b" x="901.76"/><use href="#b" x="912.73"/><use href="#b" x="918.21"/><use href="#b" x="929.18"/><use href="#b" x="940.15"/><use href="#b" x="951.12"/><use href="#b" x="956.61"/><use href="#b" x="967.58"/><use href="#b" x="978.55"/><use href="#b" x="995.01"/></g><g fill="#6f9e93"><use href="#b" x="435.53"/><use href="#b" x="490.38"/><use href="#b" x="506.84"/><use href="#b" x="523.29"/><use href="#b" x="539.75"/><use href="#b" x="605.57"/><use href="#b" x="611.06"/><use href="#b" x="627.51"/><use href="#b" x="682.36"/><use href="#b" x="704.30"/><use href="#b" x="709.79"/><use href="#b" x="748.18"/><use href="#b" x="753.66"/><use href="#b" x="764.63"/><use href="#b" x="770.12"/><use href="#b" x="792.06"/><use href="#b" x="808.51"/><use href="#b" x="814.00"/><use href="#b" x="824.97"/><use href="#b" x="830.46"/><use href="#b" x="863.37"/><use href="#b" x="879.82"/><use href="#b" x="907.25"/><use href="#b" x="923.70"/><use href="#b" x="934.67"/><use href="#b" x="945.64"/><use href="#b" x="962.10"/><use href="#b" x="973.07"/><use href="#b" x="984.04"/><use href="#b" x="989.52"/></g><g fill="#5c8f82"><use href="#b" x="462.96"/><use href="#b" x="468.44"/><use href="#b" x="561.69"/><use href="#b" x="687.85"/><use href="#b" x="846.91"/><use href="#b" x="852.39"/><use href="#b" x="857.88"/></g><path fill="#0d4a3a" fill-opacity="0.09" d="M391.65 0h92.97v1.6h-92.97zM391.65 43.4h92.97v1.6h-92.97zM490.38 0h531.77v1.6h-531.77zM490.38 43.4h531.77v1.6h-531.77z"/></g>
<g transform="translate(0,1350.0)"><g fill="#d0e2dc"><use href="#b" x="413.59"/><use href="#b" x="419.08"/><use href="#b" x="435.53"/><use href="#b" x="572.66"/><use href="#b" x="1132.13"/><use href="#b" x="1176.01"/><use href="#b" x="1181.50"/><use href="#b" x="1186.98"/><use href="#b" x="1192.47"/></g><g fill="#9fc0b8"><use href="#b" x="441.02"/><use href="#b" x="446.50"/><use href="#b" x="468.44"/><use href="#b" x="473.93"/><use href="#b" x="523.29"/><use href="#b" x="567.17"/><use href="#b" x="578.14"/><use href="#b" x="748.18"/><use href="#b" x="934.67"/><use href="#b" x="973.07"/><use href="#b" x="1126.64"/><use href="#b" x="1165.04"/><use href="#b" x="1170.53"/></g><g fill="#82ada5"><use href="#b" x="430.05"/><use href="#b" x="451.99"/><use href="#b" x="457.48"/><use href="#b" x="462.96"/><use href="#b" x="484.90"/><use href="#b" x="495.87"/><use href="#b" x="512.33"/><use href="#b" x="539.75"/><use href="#b" x="583.63"/><use href="#b" x="589.12"/><use href="#b" x="600.09"/><use href="#b" x="622.02"/><use href="#b" x="627.51"/><use href="#b" x="633.00"/><use href="#b" x="638.48"/><use href="#b" x="643.97"/><use href="#b" x="649.45"/><use href="#b" x="660.42"/><use href="#b" x="671.39"/><use href="#b" x="676.88"/><use href="#b" x="709.79"/><use href="#b" x="715.27"/><use href="#b" x="737.21"/><use href="#b" x="742.69"/><use href="#b" x="753.66"/><use href="#b" x="759.15"/><use href="#b" x="764.63"/><use href="#b" x="770.12"/><use href="#b" x="775.61"/><use href="#b" x="781.09"/><use href="#b" x="803.03"/><use href="#b" x="808.51"/><use href="#b" x="814.00"/><use href="#b" x="824.97"/><use href="#b" x="835.94"/><use href="#b" x="841.42"/><use href="#b" x="863.37"/><use href="#b" x="868.85"/><use href="#b" x="874.34"/><use href="#b" x="885.31"/><use href="#b" x="901.76"/><use href="#b" x="907.25"/><use href="#b" x="918.21"/><use href="#b" x="923.70"/><use href="#b" x="940.15"/><use href="#b" x="951.12"/><use href="#b" x="962.10"/><use href="#b" x="967.58"/><use href="#b" x="1005.98"/><use href="#b" x="1011.46"/><use href="#b" x="1016.94"/><use href="#b" x="1022.43"/><use href="#b" x="1027.91"/><use href="#b" x="1033.40"/><use href="#b" x="1038.88"/><use href="#b" x="1049.86"/><use href="#b" x="1060.83"/><use href="#b" x="1066.31"/><use href="#b" x="1071.80"/><use href="#b" x="1077.28"/><use href="#b" x="1082.77"/><use href="#b" x="1093.74"/><use href="#b" x="1110.19"/><use href="#b" x="1115.67"/><use href="#b" x="1121.16"/></g><g fill="#6f9e93"><use href="#b" x="479.41"/><use href="#b" x="490.38"/><use href="#b" x="501.36"/><use href="#b" x="506.84"/><use href="#b" x="517.81"/><use href="#b" x="528.78"/><use href="#b" x="534.26"/><use href="#b" x="550.72"/><use href="#b" x="556.21"/><use href="#b" x="561.69"/><use href="#b" x="594.60"/><use href="#b" x="611.06"/><use href="#b" x="616.54"/><use href="#b" x="654.93"/><use href="#b" x="665.90"/><use href="#b" x="682.36"/><use href="#b" x="693.33"/><use href="#b" x="698.82"/><use href="#b" x="720.75"/><use href="#b" x="726.24"/><use href="#b" x="731.73"/><use href="#b" x="786.58"/><use href="#b" x="797.55"/><use href="#b" x="819.49"/><use href="#b" x="830.46"/><use href="#b" x="846.91"/><use href="#b" x="852.39"/><use href="#b" x="890.79"/><use href="#b" x="896.28"/><use href="#b" x="912.73"/><use href="#b" x="945.64"/><use href="#b" x="956.61"/><use href="#b" x="978.55"/><use href="#b" x="984.04"/><use href="#b" x="989.52"/><use href="#b" x="995.01"/><use href="#b" x="1000.49"/><use href="#b" x="1044.37"/><use href="#b" x="1055.34"/><use href="#b" x="1088.25"/><use href="#b" x="1099.22"/><use href="#b" x="1104.70"/><use href="#b" x="1137.62"/><use href="#b" x="1143.10"/><use href="#b" x="1148.59"/><use href="#b" x="1154.07"/><use href="#b" x="1159.56"/></g><g fill="#5c8f82"><use href="#b" x="545.24"/><use href="#b" x="605.57"/><use href="#b" x="687.85"/><use href="#b" x="704.30"/><use href="#b" x="792.06"/><use href="#b" x="857.88"/><use href="#b" x="879.82"/><use href="#b" x="929.18"/></g><path fill="#0d4a3a" fill-opacity="0.09" d="M413.59 0h10.69v1.6h-10.69zM413.59 43.4h10.69v1.6h-10.69zM430.05 0h767.62v1.6h-767.62zM430.05 43.4h767.62v1.6h-767.62z"/></g>
<g transform="translate(0,1410.0)"><g fill="#d0e2dc"><use href="#b" x="386.17"/><use href="#b" x="1214.40"/></g><g fill="#9fc0b8"><use href="#b" x="397.14"/><use href="#b" x="413.59"/><use href="#b" x="435.53"/><use href="#b" x="1027.91"/><use href="#b" x="1154.07"/><use href="#b" x="1203.43"/><use href="#b" x="1208.92"/><use href="#b" x="1219.89"/></g><g fill="#82ada5"><use href="#b" x="391.65"/><use href="#b" x="402.62"/><use href="#b" x="408.11"/><use href="#b" x="419.08"/><use href="#b" x="424.56"/><use href="#b" x="441.02"/><use href="#b" x="446.50"/><use href="#b" x="457.48"/><use href="#b" x="462.96"/><use href="#b" x="468.44"/><use href="#b" x="495.87"/><use href="#b" x="501.36"/><use href="#b" x="523.29"/><use href="#b" x="528.78"/><use href="#b" x="534.26"/><use href="#b" x="539.75"/><use href="#b" x="545.24"/><use href="#b" x="550.72"/><use href="#b" x="556.21"/><use href="#b" x="561.69"/><use href="#b" x="567.17"/><use href="#b" x="605.57"/><use href="#b" x="611.06"/><use href="#b" x="622.02"/><use href="#b" x="633.00"/><use href="#b" x="638.48"/><use href="#b" x="643.97"/><use href="#b" x="649.45"/><use href="#b" x="671.39"/><use href="#b" x="676.88"/><use href="#b" x="687.85"/><use href="#b" x="693.33"/><use href="#b" x="704.30"/><use href="#b" x="709.79"/><use href="#b" x="715.27"/><use href="#b" x="726.24"/><use href="#b" x="753.66"/><use href="#b" x="764.63"/><use href="#b" x="775.61"/><use href="#b" x="781.09"/><use href="#b" x="786.58"/><use href="#b" x="797.55"/><use href="#b" x="808.51"/><use href="#b" x="814.00"/><use href="#b" x="830.46"/><use href="#b" x="835.94"/><use href="#b" x="846.91"/><use href="#b" x="852.39"/><use href="#b" x="857.88"/><use href="#b" x="890.79"/><use href="#b" x="896.28"/><use href="#b" x="929.18"/><use href="#b" x="951.12"/><use href="#b" x="962.10"/><use href="#b" x="967.58"/><use href="#b" x="973.07"/><use href="#b" x="978.55"/><use href="#b" x="989.52"/><use href="#b" x="1000.49"/><use href="#b" x="1005.98"/><use href="#b" x="1011.46"/><use href="#b" x="1044.37"/><use href="#b" x="1049.86"/><use href="#b" x="1060.83"/><use href="#b" x="1077.28"/><use href="#b" x="1088.25"/><use href="#b" x="1099.22"/><use href="#b" x="1115.67"/><use href="#b" x="1143.10"/><use href="#b" x="1165.04"/><use href="#b" x="1170.53"/><use href="#b" x="1176.01"/><use href="#b" x="1186.98"/><use href="#b" x="1197.95"/><use href="#b" x="1225.38"/><use href="#b" x="1230.86"/></g><g fill="#6f9e93"><use href="#b" x="375.20"/><use href="#b" x="380.69"/><use href="#b" x="430.05"/><use href="#b" x="473.93"/><use href="#b" x="479.41"/><use href="#b" x="484.90"/><use href="#b" x="506.84"/><use href="#b" x="512.33"/><use href="#b" x="572.66"/><use href="#b" x="578.14"/><use href="#b" x="583.63"/><use href="#b" x="589.12"/><use href="#b" x="600.09"/><use href="#b" x="616.54"/><use href="#b" x="627.51"/><use href="#b" x="654.93"/><use href="#b" x="665.90"/><use href="#b" x="682.36"/><use href="#b" x="698.82"/><use href="#b" x="737.21"/><use href="#b" x="742.69"/><use href="#b" x="748.18"/><use href="#b" x="770.12"/><use href="#b" x="792.06"/><use href="#b" x="803.03"/><use href="#b" x="819.49"/><use href="#b" x="824.97"/><use href="#b" x="841.42"/><use href="#b" x="863.37"/><use href="#b" x="868.85"/><use href="#b" x="874.34"/><use href="#b" x="879.82"/><use href="#b" x="885.31"/><use href="#b" x="901.76"/><use href="#b" x="907.25"/><use href="#b" x="918.21"/><use href="#b" x="923.70"/><use href="#b" x="934.67"/><use href="#b" x="940.15"/><use href="#b" x="945.64"/><use href="#b" x="956.61"/><use href="#b" x="984.04"/><use href="#b" x="995.01"/><use href="#b" x="1016.94"/><use href="#b" x="1022.43"/><use href="#b" x="1033.40"/><use href="#b" x="1055.34"/><use href="#b" x="1066.31"/><use href="#b" x="1071.80"/><use href="#b" x="1082.77"/><use href="#b" x="1093.74"/><use href="#b" x="1104.70"/><use href="#b" x="1110.19"/><use href="#b" x="1121.16"/><use href="#b" x="1126.64"/><use href="#b" x="1137.62"/><use href="#b" x="1148.59"/><use href="#b" x="1159.56"/><use href="#b" x="1181.50"/><use href="#b" x="1192.47"/></g><g fill="#5c8f82"><use href="#b" x="451.99"/><use href="#b" x="490.38"/><use href="#b" x="517.81"/><use href="#b" x="594.60"/><use href="#b" x="660.42"/><use href="#b" x="720.75"/><use href="#b" x="731.73"/><use href="#b" x="759.15"/><use href="#b" x="912.73"/><use href="#b" x="1038.88"/><use href="#b" x="1132.13"/></g><path fill="#0d4a3a" fill-opacity="0.09" d="M375.20 0h860.87v1.6h-860.87zM375.20 43.4h860.87v1.6h-860.87z"/></g>
<g transform="translate(0,1470.0)"><g fill="#d0e2dc"><use href="#b" x="907.25"/><use href="#b" x="912.73"/></g><g fill="#9fc0b8"><use href="#b" x="391.65"/><use href="#b" x="446.50"/><use href="#b" x="451.99"/><use href="#b" x="473.93"/><use href="#b" x="748.18"/><use href="#b" x="753.66"/><use href="#b" x="797.55"/><use href="#b" x="819.49"/><use href="#b" x="868.85"/><use href="#b" x="901.76"/></g><g fill="#82ada5"><use href="#b" x="380.69"/><use href="#b" x="402.62"/><use href="#b" x="419.08"/><use href="#b" x="430.05"/><use href="#b" x="441.02"/><use href="#b" x="457.48"/><use href="#b" x="462.96"/><use href="#b" x="468.44"/><use href="#b" x="479.41"/><use href="#b" x="484.90"/><use href="#b" x="490.38"/><use href="#b" x="501.36"/><use href="#b" x="506.84"/><use href="#b" x="512.33"/><use href="#b" x="517.81"/><use href="#b" x="523.29"/><use href="#b" x="534.26"/><use href="#b" x="539.75"/><use href="#b" x="556.21"/><use href="#b" x="561.69"/><use href="#b" x="567.17"/><use href="#b" x="583.63"/><use href="#b" x="594.60"/><use href="#b" x="611.06"/><use href="#b" x="616.54"/><use href="#b" x="627.51"/><use href="#b" x="633.00"/><use href="#b" x="638.48"/><use href="#b" x="643.97"/><use href="#b" x="649.45"/><use href="#b" x="660.42"/><use href="#b" x="665.90"/><use href="#b" x="671.39"/><use href="#b" x="687.85"/><use href="#b" x="693.33"/><use href="#b" x="698.82"/><use href="#b" x="704.30"/><use href="#b" x="709.79"/><use href="#b" x="715.27"/><use href="#b" x="726.24"/><use href="#b" x="731.73"/><use href="#b" x="742.69"/><use href="#b" x="759.15"/><use href="#b" x="764.63"/><use href="#b" x="770.12"/><use href="#b" x="792.06"/><use href="#b" x="808.51"/><use href="#b" x="814.00"/><use href="#b" x="846.91"/><use href="#b" x="852.39"/><use href="#b" x="857.88"/><use href="#b" x="863.37"/><use href="#b" x="874.34"/><use href="#b" x="879.82"/><use href="#b" x="885.31"/><use href="#b" x="890.79"/><use href="#b" x="896.28"/></g><g fill="#6f9e93"><use href="#b" x="375.20"/><use href="#b" x="386.17"/><use href="#b" x="397.14"/><use href="#b" x="408.11"/><use href="#b" x="413.59"/><use href="#b" x="424.56"/><use href="#b" x="435.53"/><use href="#b" x="495.87"/><use href="#b" x="528.78"/><use href="#b" x="545.24"/><use href="#b" x="572.66"/><use href="#b" x="578.14"/><use href="#b" x="589.12"/><use href="#b" x="600.09"/><use href="#b" x="605.57"/><use href="#b" x="622.02"/><use href="#b" x="654.93"/><use href="#b" x="676.88"/><use href="#b" x="682.36"/><use href="#b" x="720.75"/><use href="#b" x="737.21"/><use href="#b" x="775.61"/><use href="#b" x="781.09"/><use href="#b" x="786.58"/><use href="#b" x="824.97"/><use href="#b" x="830.46"/><use href="#b" x="841.42"/></g><g fill="#5c8f82"><use href="#b" x="550.72"/><use href="#b" x="803.03"/><use href="#b" x="835.94"/></g><path fill="#0d4a3a" fill-opacity="0.09" d="M375.20 0h542.74v1.6h-542.74zM375.20 43.4h542.74v1.6h-542.74z"/></g>
<rect x="1326" y="1087.80" width="22.5" height="22.77" fill="#d0e2dc"/>
<rect x="1326" y="1110.27" width="22.5" height="22.77" fill="#9fc0b8"/>
<rect x="1326" y="1132.74" width="22.5" height="22.77" fill="#82ada5"/>
<rect x="1326" y="1155.21" width="22.5" height="22.77" fill="#6f9e93"/>
<rect x="1326" y="1177.68" width="22.5" height="22.77" fill="#5c8f82"/>
<rect x="1326" y="1200.15" width="22.5" height="22.77" fill="#4a8172"/>
<rect x="1326" y="1222.62" width="22.5" height="22.77" fill="#397261"/>
<rect x="1326" y="1245.09" width="22.5" height="22.77" fill="#216250"/>
<rect x="1326" y="1267.56" width="22.5" height="22.47" fill="#074d37"/>
<g font-size="18" fill="#0a0a0a" stroke="#0a0a0a" stroke-width="0.55">
<text x="1351.5" y="1077.7">0</text>
<text x="1351.5" y="1100.2">4</text>
<text x="1351.5" y="1122.6">8</text>
<text x="1351.5" y="1145.1">12</text>
<text x="1351.5" y="1167.6">16</text>
<text x="1351.5" y="1190.0">20</text>
<text x="1351.5" y="1212.5">24</text>
<text x="1351.5" y="1235.0">28</text>
<text x="1351.5" y="1257.5">32</text>
<text x="1351.5" y="1279.9">&gt;32</text>
</g>
<g id="wm" filter="url(#wb)"><g transform="translate(1200,1480) scale(0.06667)"><path d="M215,700 L215,1150 L320,1190 L360,1370 L640,1375 C720,1330 780,1270 800,1230 L870,1110 L1050,1135 L1150,1150 L1185,1090 L1165,790 C1230,720 1260,650 1265,590 C1290,500 1295,420 1285,360 C1270,280 1240,230 1205,205 C1120,180 1030,180 950,195 C860,230 780,290 710,350 C630,420 570,490 520,570 C470,650 440,720 415,790 L310,760 Z" fill="#fff" stroke="#d2d1cc" stroke-width="66" stroke-linejoin="round"/><path d="M500,790 C540,700 600,600 680,510 C760,420 860,340 1000,300 C1100,290 1170,330 1200,420 C1220,520 1200,620 1150,720 L1100,770" fill="none" stroke="#d2d1cc" stroke-width="50" stroke-linecap="round" stroke-linejoin="round"/><path d="M560,770 C600,690 660,600 740,520 C820,450 910,400 1000,385 C1080,390 1120,430 1130,500 C1140,580 1120,660 1080,720 C1000,730 900,740 800,750 Z" fill="#d2d1cc"/><path d="M640,690 L850,530 L835,590 L880,640 C820,670 760,700 690,720 Z" fill="#fff"/><circle cx="960" cy="540" r="42" fill="#fff"/><path d="M460,925 C600,900 700,810 850,785 S1050,775 1150,815 M450,1065 C600,1040 700,950 850,925 S1050,915 1160,955 M810,1135 C880,1080 1000,1050 1150,1095 M240,855 L390,925 M240,995 L350,1050" fill="none" stroke="#d2d1cc" stroke-width="62" stroke-linecap="round" stroke-linejoin="round"/><path d="M470,1205 C600,1190 720,1160 840,1125 C810,1230 700,1295 600,1285 C540,1275 495,1245 470,1205Z" fill="#d2d1cc"/></g><g transform="translate(1285,1495) scale(0.05333)"><path d="M270,485 L1210,485 M715,340 L715,485 M300,485 L306,1070 M1190,485 L1125,1070 M715,765 L715,1100 M430,765 L1040,765" fill="none" stroke="#d2d1cc" stroke-width="325" stroke-linecap="round" stroke-linejoin="round"/><path d="M330,500 L1170,500 L1110,985 L345,985 Z" fill="#fff"/><path d="M575,528 L650,524 M790,524 L965,522" fill="none" stroke="#d2d1cc" stroke-width="40" stroke-linecap="round" stroke-linejoin="round"/><path d="M430,695 L530,690 M670,690 L770,690 M890,690 L1030,690" fill="none" stroke="#d2d1cc" stroke-width="62" stroke-linecap="round" stroke-linejoin="round"/><path d="M430,850 L640,830 M790,835 L1030,835" fill="none" stroke="#d2d1cc" stroke-width="50" stroke-linecap="round" stroke-linejoin="round"/><path d="M410,1040 L640,1040 M790,1040 L1050,1040" fill="none" stroke="#d2d1cc" stroke-width="110" stroke-linecap="round" stroke-linejoin="round"/><path d="M270,485 L1210,485 M715,340 L715,485 M300,485 L306,1070 M1190,485 L1125,1070 M715,765 L715,1100 M430,765 L1040,765" fill="none" stroke="#fff" stroke-width="80" stroke-linecap="round" stroke-linejoin="round"/></g><g transform="translate(1355,1495) scale(0.05333)"><path d="M260,445 L430,445 M240,685 L390,685 M250,1000 L400,860 M720,370 L560,570 M700,425 L1100,425 M440,760 L1200,760 M660,560 L1060,560 L1000,1000 M640,570 L500,960 L640,1070 L900,1070 L1000,940" fill="none" stroke="#d2d1cc" stroke-width="325" stroke-linecap="round" stroke-linejoin="round"/><path d="M660,540 L1070,540 L1030,800 L980,1000 L900,1090 L640,1090 L470,980 L560,780 Z" fill="#fff"/><path d="M735,640 L745,640 M925,640 L935,640 M665,830 L675,830 M845,830 L855,830" fill="none" stroke="#d2d1cc" stroke-width="85" stroke-linecap="round" stroke-linejoin="round"/><path d="M660,965 L850,950" fill="none" stroke="#d2d1cc" stroke-width="52" stroke-linecap="round" stroke-linejoin="round"/><path d="M260,445 L430,445 M240,685 L390,685 M250,1000 L400,860 M720,370 L560,570 M700,425 L1100,425 M440,760 L1200,760" fill="none" stroke="#fff" stroke-width="80" stroke-linecap="round" stroke-linejoin="round"/></g><g transform="translate(1420,1495) scale(0.05333)"><path d="M350,425 L730,425 M370,425 L265,1000 M730,425 L650,840 M430,820 L660,820 M930,470 L1200,470 M900,470 L800,880 L700,960 L580,965 M900,625 L1250,625 M1040,625 L1010,1090" fill="none" stroke="#d2d1cc" stroke-width="325" stroke-linecap="round" stroke-linejoin="round"/><path d="M450,440 L750,440 L670,880 L390,880 Z" fill="#fff"/><path d="M510,515 L690,505 M490,695 L590,685" fill="none" stroke="#d2d1cc" stroke-width="55" stroke-linecap="round" stroke-linejoin="round"/><path d="M930,550 L1210,550" fill="none" stroke="#d2d1cc" stroke-width="40" stroke-linecap="round" stroke-linejoin="round"/><path d="M350,425 L730,425 M370,425 L265,1000 M730,425 L650,840 M430,820 L660,820 M930,470 L1200,470 M900,470 L800,880 L700,960 L580,965 M900,625 L1250,625 M1040,625 L1010,1090" fill="none" stroke="#fff" stroke-width="80" stroke-linecap="round" stroke-linejoin="round"/></g></g></g>
</svg>
</body></html>
